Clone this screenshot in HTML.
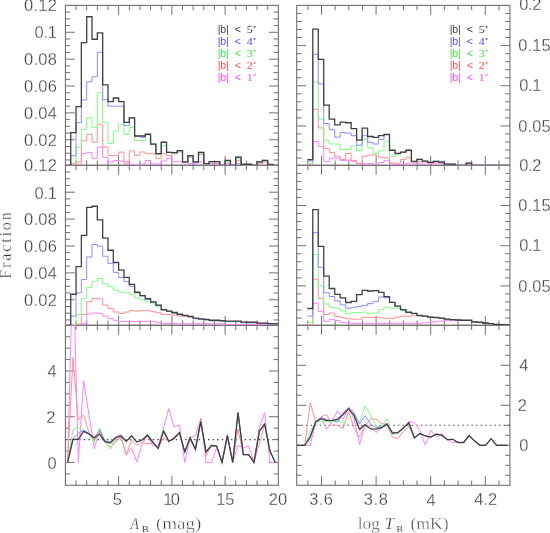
<!DOCTYPE html>
<html><head><meta charset="utf-8"><style>
html,body{margin:0;padding:0;background:#fff;}
svg{display:block;will-change:transform;}
</style></head><body>
<svg width="550" height="533" viewBox="0 0 550 533">
<defs><clipPath id="cL0"><rect x="65.4" y="5.4" width="212.95000000000002" height="159.9"/></clipPath><clipPath id="cL1"><rect x="65.4" y="165.3" width="212.95000000000002" height="160.0"/></clipPath><clipPath id="cL2"><rect x="65.4" y="325.3" width="212.95000000000002" height="160.0"/></clipPath><clipPath id="cR0"><rect x="296.7" y="5.4" width="213.2" height="159.9"/></clipPath><clipPath id="cR1"><rect x="296.7" y="165.3" width="213.2" height="160.0"/></clipPath><clipPath id="cR2"><rect x="296.7" y="325.3" width="213.2" height="160.0"/></clipPath></defs>
<rect width="550" height="533" fill="#fff"/>
<rect x="65.40" y="5.40" width="212.95" height="159.90" fill="none" stroke="#707070" stroke-width="1.1"/>
<line x1="76.05" y1="165.30" x2="76.05" y2="160.50" stroke="#707070" stroke-width="1.0" />
<line x1="76.05" y1="5.40" x2="76.05" y2="10.20" stroke="#707070" stroke-width="1.0" />
<line x1="86.70" y1="165.30" x2="86.70" y2="160.50" stroke="#707070" stroke-width="1.0" />
<line x1="86.70" y1="5.40" x2="86.70" y2="10.20" stroke="#707070" stroke-width="1.0" />
<line x1="97.34" y1="165.30" x2="97.34" y2="160.50" stroke="#707070" stroke-width="1.0" />
<line x1="97.34" y1="5.40" x2="97.34" y2="10.20" stroke="#707070" stroke-width="1.0" />
<line x1="107.99" y1="165.30" x2="107.99" y2="160.50" stroke="#707070" stroke-width="1.0" />
<line x1="107.99" y1="5.40" x2="107.99" y2="10.20" stroke="#707070" stroke-width="1.0" />
<line x1="118.64" y1="165.30" x2="118.64" y2="155.90" stroke="#707070" stroke-width="1.0" />
<line x1="118.64" y1="5.40" x2="118.64" y2="14.80" stroke="#707070" stroke-width="1.0" />
<line x1="129.29" y1="165.30" x2="129.29" y2="160.50" stroke="#707070" stroke-width="1.0" />
<line x1="129.29" y1="5.40" x2="129.29" y2="10.20" stroke="#707070" stroke-width="1.0" />
<line x1="139.93" y1="165.30" x2="139.93" y2="160.50" stroke="#707070" stroke-width="1.0" />
<line x1="139.93" y1="5.40" x2="139.93" y2="10.20" stroke="#707070" stroke-width="1.0" />
<line x1="150.58" y1="165.30" x2="150.58" y2="160.50" stroke="#707070" stroke-width="1.0" />
<line x1="150.58" y1="5.40" x2="150.58" y2="10.20" stroke="#707070" stroke-width="1.0" />
<line x1="161.23" y1="165.30" x2="161.23" y2="160.50" stroke="#707070" stroke-width="1.0" />
<line x1="161.23" y1="5.40" x2="161.23" y2="10.20" stroke="#707070" stroke-width="1.0" />
<line x1="171.88" y1="165.30" x2="171.88" y2="155.90" stroke="#707070" stroke-width="1.0" />
<line x1="171.88" y1="5.40" x2="171.88" y2="14.80" stroke="#707070" stroke-width="1.0" />
<line x1="182.52" y1="165.30" x2="182.52" y2="160.50" stroke="#707070" stroke-width="1.0" />
<line x1="182.52" y1="5.40" x2="182.52" y2="10.20" stroke="#707070" stroke-width="1.0" />
<line x1="193.17" y1="165.30" x2="193.17" y2="160.50" stroke="#707070" stroke-width="1.0" />
<line x1="193.17" y1="5.40" x2="193.17" y2="10.20" stroke="#707070" stroke-width="1.0" />
<line x1="203.82" y1="165.30" x2="203.82" y2="160.50" stroke="#707070" stroke-width="1.0" />
<line x1="203.82" y1="5.40" x2="203.82" y2="10.20" stroke="#707070" stroke-width="1.0" />
<line x1="214.47" y1="165.30" x2="214.47" y2="160.50" stroke="#707070" stroke-width="1.0" />
<line x1="214.47" y1="5.40" x2="214.47" y2="10.20" stroke="#707070" stroke-width="1.0" />
<line x1="225.11" y1="165.30" x2="225.11" y2="155.90" stroke="#707070" stroke-width="1.0" />
<line x1="225.11" y1="5.40" x2="225.11" y2="14.80" stroke="#707070" stroke-width="1.0" />
<line x1="235.76" y1="165.30" x2="235.76" y2="160.50" stroke="#707070" stroke-width="1.0" />
<line x1="235.76" y1="5.40" x2="235.76" y2="10.20" stroke="#707070" stroke-width="1.0" />
<line x1="246.41" y1="165.30" x2="246.41" y2="160.50" stroke="#707070" stroke-width="1.0" />
<line x1="246.41" y1="5.40" x2="246.41" y2="10.20" stroke="#707070" stroke-width="1.0" />
<line x1="257.06" y1="165.30" x2="257.06" y2="160.50" stroke="#707070" stroke-width="1.0" />
<line x1="257.06" y1="5.40" x2="257.06" y2="10.20" stroke="#707070" stroke-width="1.0" />
<line x1="267.70" y1="165.30" x2="267.70" y2="160.50" stroke="#707070" stroke-width="1.0" />
<line x1="267.70" y1="5.40" x2="267.70" y2="10.20" stroke="#707070" stroke-width="1.0" />
<line x1="65.40" y1="159.93" x2="70.20" y2="159.93" stroke="#707070" stroke-width="1.0" />
<line x1="278.35" y1="159.93" x2="273.55" y2="159.93" stroke="#707070" stroke-width="1.0" />
<line x1="65.40" y1="153.21" x2="70.20" y2="153.21" stroke="#707070" stroke-width="1.0" />
<line x1="278.35" y1="153.21" x2="273.55" y2="153.21" stroke="#707070" stroke-width="1.0" />
<line x1="65.40" y1="146.49" x2="70.20" y2="146.49" stroke="#707070" stroke-width="1.0" />
<line x1="278.35" y1="146.49" x2="273.55" y2="146.49" stroke="#707070" stroke-width="1.0" />
<line x1="65.40" y1="139.77" x2="74.80" y2="139.77" stroke="#707070" stroke-width="1.0" />
<line x1="278.35" y1="139.77" x2="268.95" y2="139.77" stroke="#707070" stroke-width="1.0" />
<line x1="65.40" y1="133.05" x2="70.20" y2="133.05" stroke="#707070" stroke-width="1.0" />
<line x1="278.35" y1="133.05" x2="273.55" y2="133.05" stroke="#707070" stroke-width="1.0" />
<line x1="65.40" y1="126.33" x2="70.20" y2="126.33" stroke="#707070" stroke-width="1.0" />
<line x1="278.35" y1="126.33" x2="273.55" y2="126.33" stroke="#707070" stroke-width="1.0" />
<line x1="65.40" y1="119.61" x2="70.20" y2="119.61" stroke="#707070" stroke-width="1.0" />
<line x1="278.35" y1="119.61" x2="273.55" y2="119.61" stroke="#707070" stroke-width="1.0" />
<line x1="65.40" y1="112.90" x2="74.80" y2="112.90" stroke="#707070" stroke-width="1.0" />
<line x1="278.35" y1="112.90" x2="268.95" y2="112.90" stroke="#707070" stroke-width="1.0" />
<line x1="65.40" y1="106.18" x2="70.20" y2="106.18" stroke="#707070" stroke-width="1.0" />
<line x1="278.35" y1="106.18" x2="273.55" y2="106.18" stroke="#707070" stroke-width="1.0" />
<line x1="65.40" y1="99.46" x2="70.20" y2="99.46" stroke="#707070" stroke-width="1.0" />
<line x1="278.35" y1="99.46" x2="273.55" y2="99.46" stroke="#707070" stroke-width="1.0" />
<line x1="65.40" y1="92.74" x2="70.20" y2="92.74" stroke="#707070" stroke-width="1.0" />
<line x1="278.35" y1="92.74" x2="273.55" y2="92.74" stroke="#707070" stroke-width="1.0" />
<line x1="65.40" y1="86.02" x2="74.80" y2="86.02" stroke="#707070" stroke-width="1.0" />
<line x1="278.35" y1="86.02" x2="268.95" y2="86.02" stroke="#707070" stroke-width="1.0" />
<line x1="65.40" y1="79.30" x2="70.20" y2="79.30" stroke="#707070" stroke-width="1.0" />
<line x1="278.35" y1="79.30" x2="273.55" y2="79.30" stroke="#707070" stroke-width="1.0" />
<line x1="65.40" y1="72.58" x2="70.20" y2="72.58" stroke="#707070" stroke-width="1.0" />
<line x1="278.35" y1="72.58" x2="273.55" y2="72.58" stroke="#707070" stroke-width="1.0" />
<line x1="65.40" y1="65.87" x2="70.20" y2="65.87" stroke="#707070" stroke-width="1.0" />
<line x1="278.35" y1="65.87" x2="273.55" y2="65.87" stroke="#707070" stroke-width="1.0" />
<line x1="65.40" y1="59.15" x2="74.80" y2="59.15" stroke="#707070" stroke-width="1.0" />
<line x1="278.35" y1="59.15" x2="268.95" y2="59.15" stroke="#707070" stroke-width="1.0" />
<line x1="65.40" y1="52.43" x2="70.20" y2="52.43" stroke="#707070" stroke-width="1.0" />
<line x1="278.35" y1="52.43" x2="273.55" y2="52.43" stroke="#707070" stroke-width="1.0" />
<line x1="65.40" y1="45.71" x2="70.20" y2="45.71" stroke="#707070" stroke-width="1.0" />
<line x1="278.35" y1="45.71" x2="273.55" y2="45.71" stroke="#707070" stroke-width="1.0" />
<line x1="65.40" y1="38.99" x2="70.20" y2="38.99" stroke="#707070" stroke-width="1.0" />
<line x1="278.35" y1="38.99" x2="273.55" y2="38.99" stroke="#707070" stroke-width="1.0" />
<line x1="65.40" y1="32.27" x2="74.80" y2="32.27" stroke="#707070" stroke-width="1.0" />
<line x1="278.35" y1="32.27" x2="268.95" y2="32.27" stroke="#707070" stroke-width="1.0" />
<line x1="65.40" y1="25.56" x2="70.20" y2="25.56" stroke="#707070" stroke-width="1.0" />
<line x1="278.35" y1="25.56" x2="273.55" y2="25.56" stroke="#707070" stroke-width="1.0" />
<line x1="65.40" y1="18.84" x2="70.20" y2="18.84" stroke="#707070" stroke-width="1.0" />
<line x1="278.35" y1="18.84" x2="273.55" y2="18.84" stroke="#707070" stroke-width="1.0" />
<line x1="65.40" y1="12.12" x2="70.20" y2="12.12" stroke="#707070" stroke-width="1.0" />
<line x1="278.35" y1="12.12" x2="273.55" y2="12.12" stroke="#707070" stroke-width="1.0" />
<rect x="296.70" y="5.40" width="213.20" height="159.90" fill="none" stroke="#707070" stroke-width="1.1"/>
<line x1="307.85" y1="165.30" x2="307.85" y2="160.50" stroke="#707070" stroke-width="1.0" />
<line x1="307.85" y1="5.40" x2="307.85" y2="10.20" stroke="#707070" stroke-width="1.0" />
<line x1="321.50" y1="165.30" x2="321.50" y2="155.90" stroke="#707070" stroke-width="1.0" />
<line x1="321.50" y1="5.40" x2="321.50" y2="14.80" stroke="#707070" stroke-width="1.0" />
<line x1="335.15" y1="165.30" x2="335.15" y2="160.50" stroke="#707070" stroke-width="1.0" />
<line x1="335.15" y1="5.40" x2="335.15" y2="10.20" stroke="#707070" stroke-width="1.0" />
<line x1="348.80" y1="165.30" x2="348.80" y2="160.50" stroke="#707070" stroke-width="1.0" />
<line x1="348.80" y1="5.40" x2="348.80" y2="10.20" stroke="#707070" stroke-width="1.0" />
<line x1="362.45" y1="165.30" x2="362.45" y2="160.50" stroke="#707070" stroke-width="1.0" />
<line x1="362.45" y1="5.40" x2="362.45" y2="10.20" stroke="#707070" stroke-width="1.0" />
<line x1="376.10" y1="165.30" x2="376.10" y2="155.90" stroke="#707070" stroke-width="1.0" />
<line x1="376.10" y1="5.40" x2="376.10" y2="14.80" stroke="#707070" stroke-width="1.0" />
<line x1="389.75" y1="165.30" x2="389.75" y2="160.50" stroke="#707070" stroke-width="1.0" />
<line x1="389.75" y1="5.40" x2="389.75" y2="10.20" stroke="#707070" stroke-width="1.0" />
<line x1="403.40" y1="165.30" x2="403.40" y2="160.50" stroke="#707070" stroke-width="1.0" />
<line x1="403.40" y1="5.40" x2="403.40" y2="10.20" stroke="#707070" stroke-width="1.0" />
<line x1="417.05" y1="165.30" x2="417.05" y2="160.50" stroke="#707070" stroke-width="1.0" />
<line x1="417.05" y1="5.40" x2="417.05" y2="10.20" stroke="#707070" stroke-width="1.0" />
<line x1="430.70" y1="165.30" x2="430.70" y2="155.90" stroke="#707070" stroke-width="1.0" />
<line x1="430.70" y1="5.40" x2="430.70" y2="14.80" stroke="#707070" stroke-width="1.0" />
<line x1="444.35" y1="165.30" x2="444.35" y2="160.50" stroke="#707070" stroke-width="1.0" />
<line x1="444.35" y1="5.40" x2="444.35" y2="10.20" stroke="#707070" stroke-width="1.0" />
<line x1="458.00" y1="165.30" x2="458.00" y2="160.50" stroke="#707070" stroke-width="1.0" />
<line x1="458.00" y1="5.40" x2="458.00" y2="10.20" stroke="#707070" stroke-width="1.0" />
<line x1="471.65" y1="165.30" x2="471.65" y2="160.50" stroke="#707070" stroke-width="1.0" />
<line x1="471.65" y1="5.40" x2="471.65" y2="10.20" stroke="#707070" stroke-width="1.0" />
<line x1="485.30" y1="165.30" x2="485.30" y2="155.90" stroke="#707070" stroke-width="1.0" />
<line x1="485.30" y1="5.40" x2="485.30" y2="14.80" stroke="#707070" stroke-width="1.0" />
<line x1="498.95" y1="165.30" x2="498.95" y2="160.50" stroke="#707070" stroke-width="1.0" />
<line x1="498.95" y1="5.40" x2="498.95" y2="10.20" stroke="#707070" stroke-width="1.0" />
<line x1="296.70" y1="158.07" x2="301.50" y2="158.07" stroke="#707070" stroke-width="1.0" />
<line x1="509.90" y1="158.07" x2="505.10" y2="158.07" stroke="#707070" stroke-width="1.0" />
<line x1="296.70" y1="150.03" x2="301.50" y2="150.03" stroke="#707070" stroke-width="1.0" />
<line x1="509.90" y1="150.03" x2="505.10" y2="150.03" stroke="#707070" stroke-width="1.0" />
<line x1="296.70" y1="142.00" x2="301.50" y2="142.00" stroke="#707070" stroke-width="1.0" />
<line x1="509.90" y1="142.00" x2="505.10" y2="142.00" stroke="#707070" stroke-width="1.0" />
<line x1="296.70" y1="133.96" x2="301.50" y2="133.96" stroke="#707070" stroke-width="1.0" />
<line x1="509.90" y1="133.96" x2="505.10" y2="133.96" stroke="#707070" stroke-width="1.0" />
<line x1="296.70" y1="125.93" x2="306.10" y2="125.93" stroke="#707070" stroke-width="1.0" />
<line x1="509.90" y1="125.93" x2="500.50" y2="125.93" stroke="#707070" stroke-width="1.0" />
<line x1="296.70" y1="117.89" x2="301.50" y2="117.89" stroke="#707070" stroke-width="1.0" />
<line x1="509.90" y1="117.89" x2="505.10" y2="117.89" stroke="#707070" stroke-width="1.0" />
<line x1="296.70" y1="109.86" x2="301.50" y2="109.86" stroke="#707070" stroke-width="1.0" />
<line x1="509.90" y1="109.86" x2="505.10" y2="109.86" stroke="#707070" stroke-width="1.0" />
<line x1="296.70" y1="101.82" x2="301.50" y2="101.82" stroke="#707070" stroke-width="1.0" />
<line x1="509.90" y1="101.82" x2="505.10" y2="101.82" stroke="#707070" stroke-width="1.0" />
<line x1="296.70" y1="93.79" x2="301.50" y2="93.79" stroke="#707070" stroke-width="1.0" />
<line x1="509.90" y1="93.79" x2="505.10" y2="93.79" stroke="#707070" stroke-width="1.0" />
<line x1="296.70" y1="85.75" x2="306.10" y2="85.75" stroke="#707070" stroke-width="1.0" />
<line x1="509.90" y1="85.75" x2="500.50" y2="85.75" stroke="#707070" stroke-width="1.0" />
<line x1="296.70" y1="77.72" x2="301.50" y2="77.72" stroke="#707070" stroke-width="1.0" />
<line x1="509.90" y1="77.72" x2="505.10" y2="77.72" stroke="#707070" stroke-width="1.0" />
<line x1="296.70" y1="69.68" x2="301.50" y2="69.68" stroke="#707070" stroke-width="1.0" />
<line x1="509.90" y1="69.68" x2="505.10" y2="69.68" stroke="#707070" stroke-width="1.0" />
<line x1="296.70" y1="61.65" x2="301.50" y2="61.65" stroke="#707070" stroke-width="1.0" />
<line x1="509.90" y1="61.65" x2="505.10" y2="61.65" stroke="#707070" stroke-width="1.0" />
<line x1="296.70" y1="53.61" x2="301.50" y2="53.61" stroke="#707070" stroke-width="1.0" />
<line x1="509.90" y1="53.61" x2="505.10" y2="53.61" stroke="#707070" stroke-width="1.0" />
<line x1="296.70" y1="45.58" x2="306.10" y2="45.58" stroke="#707070" stroke-width="1.0" />
<line x1="509.90" y1="45.58" x2="500.50" y2="45.58" stroke="#707070" stroke-width="1.0" />
<line x1="296.70" y1="37.54" x2="301.50" y2="37.54" stroke="#707070" stroke-width="1.0" />
<line x1="509.90" y1="37.54" x2="505.10" y2="37.54" stroke="#707070" stroke-width="1.0" />
<line x1="296.70" y1="29.51" x2="301.50" y2="29.51" stroke="#707070" stroke-width="1.0" />
<line x1="509.90" y1="29.51" x2="505.10" y2="29.51" stroke="#707070" stroke-width="1.0" />
<line x1="296.70" y1="21.47" x2="301.50" y2="21.47" stroke="#707070" stroke-width="1.0" />
<line x1="509.90" y1="21.47" x2="505.10" y2="21.47" stroke="#707070" stroke-width="1.0" />
<line x1="296.70" y1="13.44" x2="301.50" y2="13.44" stroke="#707070" stroke-width="1.0" />
<line x1="509.90" y1="13.44" x2="505.10" y2="13.44" stroke="#707070" stroke-width="1.0" />
<rect x="65.40" y="165.30" width="212.95" height="160.00" fill="none" stroke="#707070" stroke-width="1.1"/>
<line x1="76.05" y1="325.30" x2="76.05" y2="320.50" stroke="#707070" stroke-width="1.0" />
<line x1="76.05" y1="165.30" x2="76.05" y2="170.10" stroke="#707070" stroke-width="1.0" />
<line x1="86.70" y1="325.30" x2="86.70" y2="320.50" stroke="#707070" stroke-width="1.0" />
<line x1="86.70" y1="165.30" x2="86.70" y2="170.10" stroke="#707070" stroke-width="1.0" />
<line x1="97.34" y1="325.30" x2="97.34" y2="320.50" stroke="#707070" stroke-width="1.0" />
<line x1="97.34" y1="165.30" x2="97.34" y2="170.10" stroke="#707070" stroke-width="1.0" />
<line x1="107.99" y1="325.30" x2="107.99" y2="320.50" stroke="#707070" stroke-width="1.0" />
<line x1="107.99" y1="165.30" x2="107.99" y2="170.10" stroke="#707070" stroke-width="1.0" />
<line x1="118.64" y1="325.30" x2="118.64" y2="315.90" stroke="#707070" stroke-width="1.0" />
<line x1="118.64" y1="165.30" x2="118.64" y2="174.70" stroke="#707070" stroke-width="1.0" />
<line x1="129.29" y1="325.30" x2="129.29" y2="320.50" stroke="#707070" stroke-width="1.0" />
<line x1="129.29" y1="165.30" x2="129.29" y2="170.10" stroke="#707070" stroke-width="1.0" />
<line x1="139.93" y1="325.30" x2="139.93" y2="320.50" stroke="#707070" stroke-width="1.0" />
<line x1="139.93" y1="165.30" x2="139.93" y2="170.10" stroke="#707070" stroke-width="1.0" />
<line x1="150.58" y1="325.30" x2="150.58" y2="320.50" stroke="#707070" stroke-width="1.0" />
<line x1="150.58" y1="165.30" x2="150.58" y2="170.10" stroke="#707070" stroke-width="1.0" />
<line x1="161.23" y1="325.30" x2="161.23" y2="320.50" stroke="#707070" stroke-width="1.0" />
<line x1="161.23" y1="165.30" x2="161.23" y2="170.10" stroke="#707070" stroke-width="1.0" />
<line x1="171.88" y1="325.30" x2="171.88" y2="315.90" stroke="#707070" stroke-width="1.0" />
<line x1="171.88" y1="165.30" x2="171.88" y2="174.70" stroke="#707070" stroke-width="1.0" />
<line x1="182.52" y1="325.30" x2="182.52" y2="320.50" stroke="#707070" stroke-width="1.0" />
<line x1="182.52" y1="165.30" x2="182.52" y2="170.10" stroke="#707070" stroke-width="1.0" />
<line x1="193.17" y1="325.30" x2="193.17" y2="320.50" stroke="#707070" stroke-width="1.0" />
<line x1="193.17" y1="165.30" x2="193.17" y2="170.10" stroke="#707070" stroke-width="1.0" />
<line x1="203.82" y1="325.30" x2="203.82" y2="320.50" stroke="#707070" stroke-width="1.0" />
<line x1="203.82" y1="165.30" x2="203.82" y2="170.10" stroke="#707070" stroke-width="1.0" />
<line x1="214.47" y1="325.30" x2="214.47" y2="320.50" stroke="#707070" stroke-width="1.0" />
<line x1="214.47" y1="165.30" x2="214.47" y2="170.10" stroke="#707070" stroke-width="1.0" />
<line x1="225.11" y1="325.30" x2="225.11" y2="315.90" stroke="#707070" stroke-width="1.0" />
<line x1="225.11" y1="165.30" x2="225.11" y2="174.70" stroke="#707070" stroke-width="1.0" />
<line x1="235.76" y1="325.30" x2="235.76" y2="320.50" stroke="#707070" stroke-width="1.0" />
<line x1="235.76" y1="165.30" x2="235.76" y2="170.10" stroke="#707070" stroke-width="1.0" />
<line x1="246.41" y1="325.30" x2="246.41" y2="320.50" stroke="#707070" stroke-width="1.0" />
<line x1="246.41" y1="165.30" x2="246.41" y2="170.10" stroke="#707070" stroke-width="1.0" />
<line x1="257.06" y1="325.30" x2="257.06" y2="320.50" stroke="#707070" stroke-width="1.0" />
<line x1="257.06" y1="165.30" x2="257.06" y2="170.10" stroke="#707070" stroke-width="1.0" />
<line x1="267.70" y1="325.30" x2="267.70" y2="320.50" stroke="#707070" stroke-width="1.0" />
<line x1="267.70" y1="165.30" x2="267.70" y2="170.10" stroke="#707070" stroke-width="1.0" />
<line x1="65.40" y1="319.92" x2="70.20" y2="319.92" stroke="#707070" stroke-width="1.0" />
<line x1="278.35" y1="319.92" x2="273.55" y2="319.92" stroke="#707070" stroke-width="1.0" />
<line x1="65.40" y1="313.20" x2="70.20" y2="313.20" stroke="#707070" stroke-width="1.0" />
<line x1="278.35" y1="313.20" x2="273.55" y2="313.20" stroke="#707070" stroke-width="1.0" />
<line x1="65.40" y1="306.48" x2="70.20" y2="306.48" stroke="#707070" stroke-width="1.0" />
<line x1="278.35" y1="306.48" x2="273.55" y2="306.48" stroke="#707070" stroke-width="1.0" />
<line x1="65.40" y1="299.75" x2="74.80" y2="299.75" stroke="#707070" stroke-width="1.0" />
<line x1="278.35" y1="299.75" x2="268.95" y2="299.75" stroke="#707070" stroke-width="1.0" />
<line x1="65.40" y1="293.03" x2="70.20" y2="293.03" stroke="#707070" stroke-width="1.0" />
<line x1="278.35" y1="293.03" x2="273.55" y2="293.03" stroke="#707070" stroke-width="1.0" />
<line x1="65.40" y1="286.31" x2="70.20" y2="286.31" stroke="#707070" stroke-width="1.0" />
<line x1="278.35" y1="286.31" x2="273.55" y2="286.31" stroke="#707070" stroke-width="1.0" />
<line x1="65.40" y1="279.59" x2="70.20" y2="279.59" stroke="#707070" stroke-width="1.0" />
<line x1="278.35" y1="279.59" x2="273.55" y2="279.59" stroke="#707070" stroke-width="1.0" />
<line x1="65.40" y1="272.86" x2="74.80" y2="272.86" stroke="#707070" stroke-width="1.0" />
<line x1="278.35" y1="272.86" x2="268.95" y2="272.86" stroke="#707070" stroke-width="1.0" />
<line x1="65.40" y1="266.14" x2="70.20" y2="266.14" stroke="#707070" stroke-width="1.0" />
<line x1="278.35" y1="266.14" x2="273.55" y2="266.14" stroke="#707070" stroke-width="1.0" />
<line x1="65.40" y1="259.42" x2="70.20" y2="259.42" stroke="#707070" stroke-width="1.0" />
<line x1="278.35" y1="259.42" x2="273.55" y2="259.42" stroke="#707070" stroke-width="1.0" />
<line x1="65.40" y1="252.69" x2="70.20" y2="252.69" stroke="#707070" stroke-width="1.0" />
<line x1="278.35" y1="252.69" x2="273.55" y2="252.69" stroke="#707070" stroke-width="1.0" />
<line x1="65.40" y1="245.97" x2="74.80" y2="245.97" stroke="#707070" stroke-width="1.0" />
<line x1="278.35" y1="245.97" x2="268.95" y2="245.97" stroke="#707070" stroke-width="1.0" />
<line x1="65.40" y1="239.25" x2="70.20" y2="239.25" stroke="#707070" stroke-width="1.0" />
<line x1="278.35" y1="239.25" x2="273.55" y2="239.25" stroke="#707070" stroke-width="1.0" />
<line x1="65.40" y1="232.53" x2="70.20" y2="232.53" stroke="#707070" stroke-width="1.0" />
<line x1="278.35" y1="232.53" x2="273.55" y2="232.53" stroke="#707070" stroke-width="1.0" />
<line x1="65.40" y1="225.80" x2="70.20" y2="225.80" stroke="#707070" stroke-width="1.0" />
<line x1="278.35" y1="225.80" x2="273.55" y2="225.80" stroke="#707070" stroke-width="1.0" />
<line x1="65.40" y1="219.08" x2="74.80" y2="219.08" stroke="#707070" stroke-width="1.0" />
<line x1="278.35" y1="219.08" x2="268.95" y2="219.08" stroke="#707070" stroke-width="1.0" />
<line x1="65.40" y1="212.36" x2="70.20" y2="212.36" stroke="#707070" stroke-width="1.0" />
<line x1="278.35" y1="212.36" x2="273.55" y2="212.36" stroke="#707070" stroke-width="1.0" />
<line x1="65.40" y1="205.64" x2="70.20" y2="205.64" stroke="#707070" stroke-width="1.0" />
<line x1="278.35" y1="205.64" x2="273.55" y2="205.64" stroke="#707070" stroke-width="1.0" />
<line x1="65.40" y1="198.91" x2="70.20" y2="198.91" stroke="#707070" stroke-width="1.0" />
<line x1="278.35" y1="198.91" x2="273.55" y2="198.91" stroke="#707070" stroke-width="1.0" />
<line x1="65.40" y1="192.19" x2="74.80" y2="192.19" stroke="#707070" stroke-width="1.0" />
<line x1="278.35" y1="192.19" x2="268.95" y2="192.19" stroke="#707070" stroke-width="1.0" />
<line x1="65.40" y1="185.47" x2="70.20" y2="185.47" stroke="#707070" stroke-width="1.0" />
<line x1="278.35" y1="185.47" x2="273.55" y2="185.47" stroke="#707070" stroke-width="1.0" />
<line x1="65.40" y1="178.75" x2="70.20" y2="178.75" stroke="#707070" stroke-width="1.0" />
<line x1="278.35" y1="178.75" x2="273.55" y2="178.75" stroke="#707070" stroke-width="1.0" />
<line x1="65.40" y1="172.02" x2="70.20" y2="172.02" stroke="#707070" stroke-width="1.0" />
<line x1="278.35" y1="172.02" x2="273.55" y2="172.02" stroke="#707070" stroke-width="1.0" />
<rect x="296.70" y="165.30" width="213.20" height="160.00" fill="none" stroke="#707070" stroke-width="1.1"/>
<line x1="307.85" y1="325.30" x2="307.85" y2="320.50" stroke="#707070" stroke-width="1.0" />
<line x1="307.85" y1="165.30" x2="307.85" y2="170.10" stroke="#707070" stroke-width="1.0" />
<line x1="321.50" y1="325.30" x2="321.50" y2="315.90" stroke="#707070" stroke-width="1.0" />
<line x1="321.50" y1="165.30" x2="321.50" y2="174.70" stroke="#707070" stroke-width="1.0" />
<line x1="335.15" y1="325.30" x2="335.15" y2="320.50" stroke="#707070" stroke-width="1.0" />
<line x1="335.15" y1="165.30" x2="335.15" y2="170.10" stroke="#707070" stroke-width="1.0" />
<line x1="348.80" y1="325.30" x2="348.80" y2="320.50" stroke="#707070" stroke-width="1.0" />
<line x1="348.80" y1="165.30" x2="348.80" y2="170.10" stroke="#707070" stroke-width="1.0" />
<line x1="362.45" y1="325.30" x2="362.45" y2="320.50" stroke="#707070" stroke-width="1.0" />
<line x1="362.45" y1="165.30" x2="362.45" y2="170.10" stroke="#707070" stroke-width="1.0" />
<line x1="376.10" y1="325.30" x2="376.10" y2="315.90" stroke="#707070" stroke-width="1.0" />
<line x1="376.10" y1="165.30" x2="376.10" y2="174.70" stroke="#707070" stroke-width="1.0" />
<line x1="389.75" y1="325.30" x2="389.75" y2="320.50" stroke="#707070" stroke-width="1.0" />
<line x1="389.75" y1="165.30" x2="389.75" y2="170.10" stroke="#707070" stroke-width="1.0" />
<line x1="403.40" y1="325.30" x2="403.40" y2="320.50" stroke="#707070" stroke-width="1.0" />
<line x1="403.40" y1="165.30" x2="403.40" y2="170.10" stroke="#707070" stroke-width="1.0" />
<line x1="417.05" y1="325.30" x2="417.05" y2="320.50" stroke="#707070" stroke-width="1.0" />
<line x1="417.05" y1="165.30" x2="417.05" y2="170.10" stroke="#707070" stroke-width="1.0" />
<line x1="430.70" y1="325.30" x2="430.70" y2="315.90" stroke="#707070" stroke-width="1.0" />
<line x1="430.70" y1="165.30" x2="430.70" y2="174.70" stroke="#707070" stroke-width="1.0" />
<line x1="444.35" y1="325.30" x2="444.35" y2="320.50" stroke="#707070" stroke-width="1.0" />
<line x1="444.35" y1="165.30" x2="444.35" y2="170.10" stroke="#707070" stroke-width="1.0" />
<line x1="458.00" y1="325.30" x2="458.00" y2="320.50" stroke="#707070" stroke-width="1.0" />
<line x1="458.00" y1="165.30" x2="458.00" y2="170.10" stroke="#707070" stroke-width="1.0" />
<line x1="471.65" y1="325.30" x2="471.65" y2="320.50" stroke="#707070" stroke-width="1.0" />
<line x1="471.65" y1="165.30" x2="471.65" y2="170.10" stroke="#707070" stroke-width="1.0" />
<line x1="485.30" y1="325.30" x2="485.30" y2="315.90" stroke="#707070" stroke-width="1.0" />
<line x1="485.30" y1="165.30" x2="485.30" y2="174.70" stroke="#707070" stroke-width="1.0" />
<line x1="498.95" y1="325.30" x2="498.95" y2="320.50" stroke="#707070" stroke-width="1.0" />
<line x1="498.95" y1="165.30" x2="498.95" y2="170.10" stroke="#707070" stroke-width="1.0" />
<line x1="296.70" y1="318.06" x2="301.50" y2="318.06" stroke="#707070" stroke-width="1.0" />
<line x1="509.90" y1="318.06" x2="505.10" y2="318.06" stroke="#707070" stroke-width="1.0" />
<line x1="296.70" y1="310.02" x2="301.50" y2="310.02" stroke="#707070" stroke-width="1.0" />
<line x1="509.90" y1="310.02" x2="505.10" y2="310.02" stroke="#707070" stroke-width="1.0" />
<line x1="296.70" y1="301.98" x2="301.50" y2="301.98" stroke="#707070" stroke-width="1.0" />
<line x1="509.90" y1="301.98" x2="505.10" y2="301.98" stroke="#707070" stroke-width="1.0" />
<line x1="296.70" y1="293.94" x2="301.50" y2="293.94" stroke="#707070" stroke-width="1.0" />
<line x1="509.90" y1="293.94" x2="505.10" y2="293.94" stroke="#707070" stroke-width="1.0" />
<line x1="296.70" y1="285.90" x2="306.10" y2="285.90" stroke="#707070" stroke-width="1.0" />
<line x1="509.90" y1="285.90" x2="500.50" y2="285.90" stroke="#707070" stroke-width="1.0" />
<line x1="296.70" y1="277.86" x2="301.50" y2="277.86" stroke="#707070" stroke-width="1.0" />
<line x1="509.90" y1="277.86" x2="505.10" y2="277.86" stroke="#707070" stroke-width="1.0" />
<line x1="296.70" y1="269.82" x2="301.50" y2="269.82" stroke="#707070" stroke-width="1.0" />
<line x1="509.90" y1="269.82" x2="505.10" y2="269.82" stroke="#707070" stroke-width="1.0" />
<line x1="296.70" y1="261.78" x2="301.50" y2="261.78" stroke="#707070" stroke-width="1.0" />
<line x1="509.90" y1="261.78" x2="505.10" y2="261.78" stroke="#707070" stroke-width="1.0" />
<line x1="296.70" y1="253.74" x2="301.50" y2="253.74" stroke="#707070" stroke-width="1.0" />
<line x1="509.90" y1="253.74" x2="505.10" y2="253.74" stroke="#707070" stroke-width="1.0" />
<line x1="296.70" y1="245.70" x2="306.10" y2="245.70" stroke="#707070" stroke-width="1.0" />
<line x1="509.90" y1="245.70" x2="500.50" y2="245.70" stroke="#707070" stroke-width="1.0" />
<line x1="296.70" y1="237.66" x2="301.50" y2="237.66" stroke="#707070" stroke-width="1.0" />
<line x1="509.90" y1="237.66" x2="505.10" y2="237.66" stroke="#707070" stroke-width="1.0" />
<line x1="296.70" y1="229.62" x2="301.50" y2="229.62" stroke="#707070" stroke-width="1.0" />
<line x1="509.90" y1="229.62" x2="505.10" y2="229.62" stroke="#707070" stroke-width="1.0" />
<line x1="296.70" y1="221.58" x2="301.50" y2="221.58" stroke="#707070" stroke-width="1.0" />
<line x1="509.90" y1="221.58" x2="505.10" y2="221.58" stroke="#707070" stroke-width="1.0" />
<line x1="296.70" y1="213.54" x2="301.50" y2="213.54" stroke="#707070" stroke-width="1.0" />
<line x1="509.90" y1="213.54" x2="505.10" y2="213.54" stroke="#707070" stroke-width="1.0" />
<line x1="296.70" y1="205.50" x2="306.10" y2="205.50" stroke="#707070" stroke-width="1.0" />
<line x1="509.90" y1="205.50" x2="500.50" y2="205.50" stroke="#707070" stroke-width="1.0" />
<line x1="296.70" y1="197.46" x2="301.50" y2="197.46" stroke="#707070" stroke-width="1.0" />
<line x1="509.90" y1="197.46" x2="505.10" y2="197.46" stroke="#707070" stroke-width="1.0" />
<line x1="296.70" y1="189.42" x2="301.50" y2="189.42" stroke="#707070" stroke-width="1.0" />
<line x1="509.90" y1="189.42" x2="505.10" y2="189.42" stroke="#707070" stroke-width="1.0" />
<line x1="296.70" y1="181.38" x2="301.50" y2="181.38" stroke="#707070" stroke-width="1.0" />
<line x1="509.90" y1="181.38" x2="505.10" y2="181.38" stroke="#707070" stroke-width="1.0" />
<line x1="296.70" y1="173.34" x2="301.50" y2="173.34" stroke="#707070" stroke-width="1.0" />
<line x1="509.90" y1="173.34" x2="505.10" y2="173.34" stroke="#707070" stroke-width="1.0" />
<rect x="65.40" y="325.30" width="212.95" height="160.00" fill="none" stroke="#707070" stroke-width="1.1"/>
<line x1="76.05" y1="485.30" x2="76.05" y2="480.50" stroke="#707070" stroke-width="1.0" />
<line x1="76.05" y1="325.30" x2="76.05" y2="330.10" stroke="#707070" stroke-width="1.0" />
<line x1="86.70" y1="485.30" x2="86.70" y2="480.50" stroke="#707070" stroke-width="1.0" />
<line x1="86.70" y1="325.30" x2="86.70" y2="330.10" stroke="#707070" stroke-width="1.0" />
<line x1="97.34" y1="485.30" x2="97.34" y2="480.50" stroke="#707070" stroke-width="1.0" />
<line x1="97.34" y1="325.30" x2="97.34" y2="330.10" stroke="#707070" stroke-width="1.0" />
<line x1="107.99" y1="485.30" x2="107.99" y2="480.50" stroke="#707070" stroke-width="1.0" />
<line x1="107.99" y1="325.30" x2="107.99" y2="330.10" stroke="#707070" stroke-width="1.0" />
<line x1="118.64" y1="485.30" x2="118.64" y2="475.90" stroke="#707070" stroke-width="1.0" />
<line x1="118.64" y1="325.30" x2="118.64" y2="334.70" stroke="#707070" stroke-width="1.0" />
<line x1="129.29" y1="485.30" x2="129.29" y2="480.50" stroke="#707070" stroke-width="1.0" />
<line x1="129.29" y1="325.30" x2="129.29" y2="330.10" stroke="#707070" stroke-width="1.0" />
<line x1="139.93" y1="485.30" x2="139.93" y2="480.50" stroke="#707070" stroke-width="1.0" />
<line x1="139.93" y1="325.30" x2="139.93" y2="330.10" stroke="#707070" stroke-width="1.0" />
<line x1="150.58" y1="485.30" x2="150.58" y2="480.50" stroke="#707070" stroke-width="1.0" />
<line x1="150.58" y1="325.30" x2="150.58" y2="330.10" stroke="#707070" stroke-width="1.0" />
<line x1="161.23" y1="485.30" x2="161.23" y2="480.50" stroke="#707070" stroke-width="1.0" />
<line x1="161.23" y1="325.30" x2="161.23" y2="330.10" stroke="#707070" stroke-width="1.0" />
<line x1="171.88" y1="485.30" x2="171.88" y2="475.90" stroke="#707070" stroke-width="1.0" />
<line x1="171.88" y1="325.30" x2="171.88" y2="334.70" stroke="#707070" stroke-width="1.0" />
<line x1="182.52" y1="485.30" x2="182.52" y2="480.50" stroke="#707070" stroke-width="1.0" />
<line x1="182.52" y1="325.30" x2="182.52" y2="330.10" stroke="#707070" stroke-width="1.0" />
<line x1="193.17" y1="485.30" x2="193.17" y2="480.50" stroke="#707070" stroke-width="1.0" />
<line x1="193.17" y1="325.30" x2="193.17" y2="330.10" stroke="#707070" stroke-width="1.0" />
<line x1="203.82" y1="485.30" x2="203.82" y2="480.50" stroke="#707070" stroke-width="1.0" />
<line x1="203.82" y1="325.30" x2="203.82" y2="330.10" stroke="#707070" stroke-width="1.0" />
<line x1="214.47" y1="485.30" x2="214.47" y2="480.50" stroke="#707070" stroke-width="1.0" />
<line x1="214.47" y1="325.30" x2="214.47" y2="330.10" stroke="#707070" stroke-width="1.0" />
<line x1="225.11" y1="485.30" x2="225.11" y2="475.90" stroke="#707070" stroke-width="1.0" />
<line x1="225.11" y1="325.30" x2="225.11" y2="334.70" stroke="#707070" stroke-width="1.0" />
<line x1="235.76" y1="485.30" x2="235.76" y2="480.50" stroke="#707070" stroke-width="1.0" />
<line x1="235.76" y1="325.30" x2="235.76" y2="330.10" stroke="#707070" stroke-width="1.0" />
<line x1="246.41" y1="485.30" x2="246.41" y2="480.50" stroke="#707070" stroke-width="1.0" />
<line x1="246.41" y1="325.30" x2="246.41" y2="330.10" stroke="#707070" stroke-width="1.0" />
<line x1="257.06" y1="485.30" x2="257.06" y2="480.50" stroke="#707070" stroke-width="1.0" />
<line x1="257.06" y1="325.30" x2="257.06" y2="330.10" stroke="#707070" stroke-width="1.0" />
<line x1="267.70" y1="485.30" x2="267.70" y2="480.50" stroke="#707070" stroke-width="1.0" />
<line x1="267.70" y1="325.30" x2="267.70" y2="330.10" stroke="#707070" stroke-width="1.0" />
<line x1="65.40" y1="473.87" x2="70.20" y2="473.87" stroke="#707070" stroke-width="1.0" />
<line x1="278.35" y1="473.87" x2="273.55" y2="473.87" stroke="#707070" stroke-width="1.0" />
<line x1="65.40" y1="462.44" x2="74.80" y2="462.44" stroke="#707070" stroke-width="1.0" />
<line x1="278.35" y1="462.44" x2="268.95" y2="462.44" stroke="#707070" stroke-width="1.0" />
<line x1="65.40" y1="451.01" x2="70.20" y2="451.01" stroke="#707070" stroke-width="1.0" />
<line x1="278.35" y1="451.01" x2="273.55" y2="451.01" stroke="#707070" stroke-width="1.0" />
<line x1="65.40" y1="439.59" x2="70.20" y2="439.59" stroke="#707070" stroke-width="1.0" />
<line x1="278.35" y1="439.59" x2="273.55" y2="439.59" stroke="#707070" stroke-width="1.0" />
<line x1="65.40" y1="428.16" x2="70.20" y2="428.16" stroke="#707070" stroke-width="1.0" />
<line x1="278.35" y1="428.16" x2="273.55" y2="428.16" stroke="#707070" stroke-width="1.0" />
<line x1="65.40" y1="416.73" x2="74.80" y2="416.73" stroke="#707070" stroke-width="1.0" />
<line x1="278.35" y1="416.73" x2="268.95" y2="416.73" stroke="#707070" stroke-width="1.0" />
<line x1="65.40" y1="405.30" x2="70.20" y2="405.30" stroke="#707070" stroke-width="1.0" />
<line x1="278.35" y1="405.30" x2="273.55" y2="405.30" stroke="#707070" stroke-width="1.0" />
<line x1="65.40" y1="393.87" x2="70.20" y2="393.87" stroke="#707070" stroke-width="1.0" />
<line x1="278.35" y1="393.87" x2="273.55" y2="393.87" stroke="#707070" stroke-width="1.0" />
<line x1="65.40" y1="382.44" x2="70.20" y2="382.44" stroke="#707070" stroke-width="1.0" />
<line x1="278.35" y1="382.44" x2="273.55" y2="382.44" stroke="#707070" stroke-width="1.0" />
<line x1="65.40" y1="371.01" x2="74.80" y2="371.01" stroke="#707070" stroke-width="1.0" />
<line x1="278.35" y1="371.01" x2="268.95" y2="371.01" stroke="#707070" stroke-width="1.0" />
<line x1="65.40" y1="359.59" x2="70.20" y2="359.59" stroke="#707070" stroke-width="1.0" />
<line x1="278.35" y1="359.59" x2="273.55" y2="359.59" stroke="#707070" stroke-width="1.0" />
<line x1="65.40" y1="348.16" x2="70.20" y2="348.16" stroke="#707070" stroke-width="1.0" />
<line x1="278.35" y1="348.16" x2="273.55" y2="348.16" stroke="#707070" stroke-width="1.0" />
<line x1="65.40" y1="336.73" x2="70.20" y2="336.73" stroke="#707070" stroke-width="1.0" />
<line x1="278.35" y1="336.73" x2="273.55" y2="336.73" stroke="#707070" stroke-width="1.0" />
<rect x="296.70" y="325.30" width="213.20" height="160.00" fill="none" stroke="#707070" stroke-width="1.1"/>
<line x1="307.85" y1="485.30" x2="307.85" y2="480.50" stroke="#707070" stroke-width="1.0" />
<line x1="307.85" y1="325.30" x2="307.85" y2="330.10" stroke="#707070" stroke-width="1.0" />
<line x1="321.50" y1="485.30" x2="321.50" y2="475.90" stroke="#707070" stroke-width="1.0" />
<line x1="321.50" y1="325.30" x2="321.50" y2="334.70" stroke="#707070" stroke-width="1.0" />
<line x1="335.15" y1="485.30" x2="335.15" y2="480.50" stroke="#707070" stroke-width="1.0" />
<line x1="335.15" y1="325.30" x2="335.15" y2="330.10" stroke="#707070" stroke-width="1.0" />
<line x1="348.80" y1="485.30" x2="348.80" y2="480.50" stroke="#707070" stroke-width="1.0" />
<line x1="348.80" y1="325.30" x2="348.80" y2="330.10" stroke="#707070" stroke-width="1.0" />
<line x1="362.45" y1="485.30" x2="362.45" y2="480.50" stroke="#707070" stroke-width="1.0" />
<line x1="362.45" y1="325.30" x2="362.45" y2="330.10" stroke="#707070" stroke-width="1.0" />
<line x1="376.10" y1="485.30" x2="376.10" y2="475.90" stroke="#707070" stroke-width="1.0" />
<line x1="376.10" y1="325.30" x2="376.10" y2="334.70" stroke="#707070" stroke-width="1.0" />
<line x1="389.75" y1="485.30" x2="389.75" y2="480.50" stroke="#707070" stroke-width="1.0" />
<line x1="389.75" y1="325.30" x2="389.75" y2="330.10" stroke="#707070" stroke-width="1.0" />
<line x1="403.40" y1="485.30" x2="403.40" y2="480.50" stroke="#707070" stroke-width="1.0" />
<line x1="403.40" y1="325.30" x2="403.40" y2="330.10" stroke="#707070" stroke-width="1.0" />
<line x1="417.05" y1="485.30" x2="417.05" y2="480.50" stroke="#707070" stroke-width="1.0" />
<line x1="417.05" y1="325.30" x2="417.05" y2="330.10" stroke="#707070" stroke-width="1.0" />
<line x1="430.70" y1="485.30" x2="430.70" y2="475.90" stroke="#707070" stroke-width="1.0" />
<line x1="430.70" y1="325.30" x2="430.70" y2="334.70" stroke="#707070" stroke-width="1.0" />
<line x1="444.35" y1="485.30" x2="444.35" y2="480.50" stroke="#707070" stroke-width="1.0" />
<line x1="444.35" y1="325.30" x2="444.35" y2="330.10" stroke="#707070" stroke-width="1.0" />
<line x1="458.00" y1="485.30" x2="458.00" y2="480.50" stroke="#707070" stroke-width="1.0" />
<line x1="458.00" y1="325.30" x2="458.00" y2="330.10" stroke="#707070" stroke-width="1.0" />
<line x1="471.65" y1="485.30" x2="471.65" y2="480.50" stroke="#707070" stroke-width="1.0" />
<line x1="471.65" y1="325.30" x2="471.65" y2="330.10" stroke="#707070" stroke-width="1.0" />
<line x1="485.30" y1="485.30" x2="485.30" y2="475.90" stroke="#707070" stroke-width="1.0" />
<line x1="485.30" y1="325.30" x2="485.30" y2="334.70" stroke="#707070" stroke-width="1.0" />
<line x1="498.95" y1="485.30" x2="498.95" y2="480.50" stroke="#707070" stroke-width="1.0" />
<line x1="498.95" y1="325.30" x2="498.95" y2="330.10" stroke="#707070" stroke-width="1.0" />
<line x1="296.70" y1="475.30" x2="301.50" y2="475.30" stroke="#707070" stroke-width="1.0" />
<line x1="509.90" y1="475.30" x2="505.10" y2="475.30" stroke="#707070" stroke-width="1.0" />
<line x1="296.70" y1="465.30" x2="301.50" y2="465.30" stroke="#707070" stroke-width="1.0" />
<line x1="509.90" y1="465.30" x2="505.10" y2="465.30" stroke="#707070" stroke-width="1.0" />
<line x1="296.70" y1="455.30" x2="301.50" y2="455.30" stroke="#707070" stroke-width="1.0" />
<line x1="509.90" y1="455.30" x2="505.10" y2="455.30" stroke="#707070" stroke-width="1.0" />
<line x1="296.70" y1="445.30" x2="306.10" y2="445.30" stroke="#707070" stroke-width="1.0" />
<line x1="509.90" y1="445.30" x2="500.50" y2="445.30" stroke="#707070" stroke-width="1.0" />
<line x1="296.70" y1="435.30" x2="301.50" y2="435.30" stroke="#707070" stroke-width="1.0" />
<line x1="509.90" y1="435.30" x2="505.10" y2="435.30" stroke="#707070" stroke-width="1.0" />
<line x1="296.70" y1="425.30" x2="301.50" y2="425.30" stroke="#707070" stroke-width="1.0" />
<line x1="509.90" y1="425.30" x2="505.10" y2="425.30" stroke="#707070" stroke-width="1.0" />
<line x1="296.70" y1="415.30" x2="301.50" y2="415.30" stroke="#707070" stroke-width="1.0" />
<line x1="509.90" y1="415.30" x2="505.10" y2="415.30" stroke="#707070" stroke-width="1.0" />
<line x1="296.70" y1="405.30" x2="306.10" y2="405.30" stroke="#707070" stroke-width="1.0" />
<line x1="509.90" y1="405.30" x2="500.50" y2="405.30" stroke="#707070" stroke-width="1.0" />
<line x1="296.70" y1="395.30" x2="301.50" y2="395.30" stroke="#707070" stroke-width="1.0" />
<line x1="509.90" y1="395.30" x2="505.10" y2="395.30" stroke="#707070" stroke-width="1.0" />
<line x1="296.70" y1="385.30" x2="301.50" y2="385.30" stroke="#707070" stroke-width="1.0" />
<line x1="509.90" y1="385.30" x2="505.10" y2="385.30" stroke="#707070" stroke-width="1.0" />
<line x1="296.70" y1="375.30" x2="301.50" y2="375.30" stroke="#707070" stroke-width="1.0" />
<line x1="509.90" y1="375.30" x2="505.10" y2="375.30" stroke="#707070" stroke-width="1.0" />
<line x1="296.70" y1="365.30" x2="306.10" y2="365.30" stroke="#707070" stroke-width="1.0" />
<line x1="509.90" y1="365.30" x2="500.50" y2="365.30" stroke="#707070" stroke-width="1.0" />
<line x1="296.70" y1="355.30" x2="301.50" y2="355.30" stroke="#707070" stroke-width="1.0" />
<line x1="509.90" y1="355.30" x2="505.10" y2="355.30" stroke="#707070" stroke-width="1.0" />
<line x1="296.70" y1="345.30" x2="301.50" y2="345.30" stroke="#707070" stroke-width="1.0" />
<line x1="509.90" y1="345.30" x2="505.10" y2="345.30" stroke="#707070" stroke-width="1.0" />
<line x1="296.70" y1="335.30" x2="301.50" y2="335.30" stroke="#707070" stroke-width="1.0" />
<line x1="509.90" y1="335.30" x2="505.10" y2="335.30" stroke="#707070" stroke-width="1.0" />
<g clip-path="url(#cL0)" fill="none" stroke-linejoin="miter">
<path d="M65.40,165.30 L65.40,165.30 L70.72,165.30 L70.72,164.63 L76.05,164.63 L76.05,164.63 L81.37,164.63 L81.37,153.71 L86.70,153.71 L86.70,152.37 L92.02,152.37 L92.02,158.24 L97.34,158.24 L97.34,147.18 L102.67,147.18 L102.67,157.31 L107.99,157.31 L107.99,162.10 L113.31,162.10 L113.31,160.50 L118.64,160.50 L118.64,161.04 L123.96,161.04 L123.96,163.30 L129.29,163.30 L129.29,164.37 L134.61,164.37 L134.61,165.30 L139.93,165.30 L139.93,163.97 L145.26,163.97 L145.26,160.50 L150.58,160.50 L150.58,163.97 L155.90,163.97 L155.90,163.97 L161.23,163.97 L161.23,161.04 L166.55,161.04 L166.55,158.24 L171.88,158.24 L171.88,161.70 L177.20,161.70 L177.20,161.70 L182.52,161.70 L182.52,165.30 L187.85,165.30 L187.85,163.43 L193.17,163.43 L193.17,163.43 L198.49,163.43 L198.49,161.70 L203.82,161.70 L203.82,165.30 L209.14,165.30 L209.14,163.57 L214.47,163.57 L214.47,163.57 L219.79,163.57 L219.79,165.30 L225.11,165.30 L225.11,163.70 L230.44,163.70 L230.44,165.30 L235.76,165.30 L235.76,163.70 L241.08,163.70 L241.08,165.30 L246.41,165.30 L246.41,165.30 L251.73,165.30 L251.73,165.30 L257.06,165.30 L257.06,165.30 L262.38,165.30 L262.38,161.70 L267.70,161.70 L267.70,165.30 L273.03,165.30 L273.03,165.30 L278.35,165.30" stroke="#ff80ff" stroke-width="1.0"/>
<path d="M65.40,165.30 L65.40,165.30 L70.72,165.30 L70.72,165.30 L76.05,165.30 L76.05,162.10 L81.37,162.10 L81.37,140.78 L86.70,140.78 L86.70,134.25 L92.02,134.25 L92.02,142.25 L97.34,142.25 L97.34,124.26 L102.67,124.26 L102.67,147.04 L107.99,147.04 L107.99,155.44 L113.31,155.44 L113.31,155.44 L118.64,155.44 L118.64,152.11 L123.96,152.11 L123.96,161.84 L129.29,161.84 L129.29,150.91 L134.61,150.91 L134.61,155.44 L139.93,155.44 L139.93,151.98 L145.26,151.98 L145.26,153.71 L150.58,153.71 L150.58,153.71 L155.90,153.71 L155.90,158.37 L161.23,158.37 L161.23,153.71 L166.55,153.71 L166.55,155.44 L171.88,155.44 L171.88,153.71 L177.20,153.71 L177.20,151.98 L182.52,151.98 L182.52,161.97 L187.85,161.97 L187.85,157.31 L193.17,157.31 L193.17,161.97 L198.49,161.97 L198.49,154.64 L203.82,154.64 L203.82,163.57 L209.14,163.57 L209.14,161.70 L214.47,161.70 L214.47,161.70 L219.79,161.70 L219.79,165.30 L225.11,165.30 L225.11,161.97 L230.44,161.97 L230.44,165.30 L235.76,165.30 L235.76,160.37 L241.08,160.37 L241.08,165.30 L246.41,165.30 L246.41,165.30 L251.73,165.30 L251.73,165.30 L257.06,165.30 L257.06,163.70 L262.38,163.70 L262.38,161.97 L267.70,161.97 L267.70,165.30 L273.03,165.30 L273.03,165.30 L278.35,165.30" stroke="#ff9090" stroke-width="1.0"/>
<path d="M65.40,165.30 L65.40,165.30 L70.72,165.30 L70.72,163.57 L76.05,163.57 L76.05,147.18 L81.37,147.18 L81.37,129.32 L86.70,129.32 L86.70,117.73 L92.02,117.73 L92.02,127.59 L97.34,127.59 L97.34,92.81 L102.67,92.81 L102.67,122.39 L107.99,122.39 L107.99,143.58 L113.31,143.58 L113.31,130.92 L118.64,130.92 L118.64,124.13 L123.96,124.13 L123.96,134.25 L129.29,134.25 L129.29,127.46 L134.61,127.46 L134.61,140.52 L139.93,140.52 L139.93,140.52 L145.26,140.52 L145.26,134.92 L150.58,134.92 L150.58,144.11 L155.90,144.11 L155.90,154.37 L161.23,154.37 L161.23,145.58 L166.55,145.58 L166.55,152.37 L171.88,152.37 L171.88,153.31 L177.20,153.31 L177.20,151.31 L182.52,151.31 L182.52,161.97 L187.85,161.97 L187.85,156.64 L193.17,156.64 L193.17,161.97 L198.49,161.97 L198.49,153.31 L203.82,153.31 L203.82,163.57 L209.14,163.57 L209.14,161.70 L214.47,161.70 L214.47,161.70 L219.79,161.70 L219.79,165.30 L225.11,165.30 L225.11,161.30 L230.44,161.30 L230.44,165.30 L235.76,165.30 L235.76,158.64 L241.08,158.64 L241.08,165.30 L246.41,165.30 L246.41,165.30 L251.73,165.30 L251.73,165.30 L257.06,165.30 L257.06,162.90 L262.38,162.90 L262.38,161.04 L267.70,161.04 L267.70,165.30 L273.03,165.30 L273.03,165.30 L278.35,165.30" stroke="#80ff80" stroke-width="1.0"/>
<path d="M65.40,165.30 L65.40,165.30 L70.72,165.30 L70.72,155.71 L76.05,155.71 L76.05,122.66 L81.37,122.66 L81.37,100.01 L86.70,100.01 L86.70,81.75 L92.02,81.75 L92.02,76.82 L97.34,76.82 L97.34,52.30 L102.67,52.30 L102.67,99.74 L107.99,99.74 L107.99,106.14 L113.31,106.14 L113.31,106.14 L118.64,106.14 L118.64,106.14 L123.96,106.14 L123.96,125.59 L129.29,125.59 L129.29,117.86 L134.61,117.86 L134.61,135.99 L139.93,135.99 L139.93,137.32 L145.26,137.32 L145.26,134.25 L150.58,134.25 L150.58,144.11 L155.90,144.11 L155.90,153.71 L161.23,153.71 L161.23,142.25 L166.55,142.25 L166.55,152.37 L171.88,152.37 L171.88,152.64 L177.20,152.64 L177.20,150.64 L182.52,150.64 L182.52,161.97 L187.85,161.97 L187.85,155.71 L193.17,155.71 L193.17,161.97 L198.49,161.97 L198.49,152.37 L203.82,152.37 L203.82,163.57 L209.14,163.57 L209.14,161.70 L214.47,161.70 L214.47,161.70 L219.79,161.70 L219.79,165.30 L225.11,165.30 L225.11,160.37 L230.44,160.37 L230.44,165.30 L235.76,165.30 L235.76,157.04 L241.08,157.04 L241.08,165.30 L246.41,165.30 L246.41,165.30 L251.73,165.30 L251.73,165.30 L257.06,165.30 L257.06,161.97 L262.38,161.97 L262.38,160.37 L267.70,160.37 L267.70,165.30 L273.03,165.30 L273.03,165.30 L278.35,165.30" stroke="#8c8cff" stroke-width="1.0"/>
<path d="M65.40,165.30 L65.40,165.30 L70.72,165.30 L70.72,132.65 L76.05,132.65 L76.05,106.67 L81.37,106.67 L81.37,42.58 L86.70,42.58 L86.70,16.73 L92.02,16.73 L92.02,39.25 L97.34,39.25 L97.34,32.85 L102.67,32.85 L102.67,84.82 L107.99,84.82 L107.99,101.61 L113.31,101.61 L113.31,98.01 L118.64,98.01 L118.64,101.61 L123.96,101.61 L123.96,122.39 L129.29,122.39 L129.29,117.86 L134.61,117.86 L134.61,135.99 L139.93,135.99 L139.93,135.99 L145.26,135.99 L145.26,134.25 L150.58,134.25 L150.58,144.11 L155.90,144.11 L155.90,153.71 L161.23,153.71 L161.23,142.25 L166.55,142.25 L166.55,152.37 L171.88,152.37 L171.88,152.64 L177.20,152.64 L177.20,150.64 L182.52,150.64 L182.52,161.97 L187.85,161.97 L187.85,155.71 L193.17,155.71 L193.17,161.97 L198.49,161.97 L198.49,152.37 L203.82,152.37 L203.82,163.57 L209.14,163.57 L209.14,161.70 L214.47,161.70 L214.47,161.70 L219.79,161.70 L219.79,165.30 L225.11,165.30 L225.11,160.37 L230.44,160.37 L230.44,165.30 L235.76,165.30 L235.76,157.04 L241.08,157.04 L241.08,164.23 L246.41,164.23 L246.41,164.23 L251.73,164.23 L251.73,165.30 L257.06,165.30 L257.06,161.97 L262.38,161.97 L262.38,160.37 L267.70,160.37 L267.70,164.37 L273.03,164.37 L273.03,165.30 L278.35,165.30" stroke="#404040" stroke-width="1.3"/>
</g>
<g clip-path="url(#cR0)" fill="none" stroke-linejoin="miter">
<path d="M307.30,164.50 L307.30,164.50 L312.78,164.50 L312.78,141.47 L318.26,141.47 L318.26,146.43 L323.74,146.43 L323.74,161.86 L329.22,161.86 L329.22,158.18 L334.70,158.18 L334.70,158.18 L340.18,158.18 L340.18,160.50 L345.66,160.50 L345.66,160.10 L351.14,160.10 L351.14,161.30 L356.62,161.30 L356.62,163.78 L362.10,163.78 L362.10,163.78 L367.58,163.78 L367.58,163.54 L373.06,163.54 L373.06,164.50 L378.54,164.50 L378.54,162.50 L384.02,162.50 L384.02,160.74 L389.50,160.74 L389.50,164.10 L394.98,164.10 L394.98,164.50 L400.46,164.50 L400.46,164.50 L405.94,164.50 L405.94,163.22 L411.42,163.22 L411.42,163.22 L416.90,163.22 L416.90,163.22 L422.38,163.22 L422.38,164.50 L427.86,164.50 L427.86,163.22 L433.34,163.22 L433.34,163.14 L438.82,163.14 L438.82,163.70 L444.30,163.70 L444.30,165.30 L449.78,165.30 L449.78,165.30 L455.26,165.30 L455.26,165.30 L460.74,165.30 L460.74,165.30 L466.22,165.30 L466.22,165.30 L471.70,165.30 L471.70,165.30 L477.18,165.30 L477.18,165.30 L482.66,165.30 L482.66,165.30 L488.14,165.30 L488.14,165.30 L493.62,165.30 L493.62,165.30 L499.10,165.30 L499.10,165.30 L504.58,165.30 L504.58,165.30 L510.06,165.30" stroke="#ff80ff" stroke-width="1.0"/>
<path d="M307.30,164.10 L307.30,164.10 L312.78,164.10 L312.78,109.34 L318.26,109.34 L318.26,127.88 L323.74,127.88 L323.74,148.27 L329.22,148.27 L329.22,152.59 L334.70,152.59 L334.70,156.27 L340.18,156.27 L340.18,159.38 L345.66,159.38 L345.66,153.47 L351.14,153.47 L351.14,160.42 L356.62,160.42 L356.62,163.38 L362.10,163.38 L362.10,156.27 L367.58,156.27 L367.58,155.07 L373.06,155.07 L373.06,155.07 L378.54,155.07 L378.54,157.23 L384.02,157.23 L384.02,157.94 L389.50,157.94 L389.50,162.90 L394.98,162.90 L394.98,163.22 L400.46,163.22 L400.46,159.38 L405.94,159.38 L405.94,157.31 L411.42,157.31 L411.42,162.10 L416.90,162.10 L416.90,161.38 L422.38,161.38 L422.38,162.10 L427.86,162.10 L427.86,162.90 L433.34,162.90 L433.34,162.10 L438.82,162.10 L438.82,162.90 L444.30,162.90 L444.30,164.50 L449.78,164.50 L449.78,164.50 L455.26,164.50 L455.26,165.30 L460.74,165.30 L460.74,165.30 L466.22,165.30 L466.22,164.26 L471.70,164.26 L471.70,165.30 L477.18,165.30 L477.18,165.30 L482.66,165.30 L482.66,165.30 L488.14,165.30 L488.14,165.30 L493.62,165.30 L493.62,165.30 L499.10,165.30 L499.10,165.30 L504.58,165.30 L504.58,165.30 L510.06,165.30" stroke="#ff9090" stroke-width="1.0"/>
<path d="M307.30,163.22 L307.30,163.22 L312.78,163.22 L312.78,81.91 L318.26,81.91 L318.26,119.25 L323.74,119.25 L323.74,140.20 L329.22,140.20 L329.22,144.03 L334.70,144.03 L334.70,144.03 L340.18,144.03 L340.18,149.47 L345.66,149.47 L345.66,149.47 L351.14,149.47 L351.14,146.11 L356.62,146.11 L356.62,150.83 L362.10,150.83 L362.10,139.40 L367.58,139.40 L367.58,147.71 L373.06,147.71 L373.06,153.47 L378.54,153.47 L378.54,150.83 L384.02,150.83 L384.02,141.16 L389.50,141.16 L389.50,156.43 L394.98,156.43 L394.98,154.51 L400.46,154.51 L400.46,152.51 L405.94,152.51 L405.94,150.91 L411.42,150.91 L411.42,161.70 L416.90,161.70 L416.90,159.70 L422.38,159.70 L422.38,161.30 L427.86,161.30 L427.86,162.50 L433.34,162.50 L433.34,161.30 L438.82,161.30 L438.82,162.10 L444.30,162.10 L444.30,164.34 L449.78,164.34 L449.78,164.34 L455.26,164.34 L455.26,165.30 L460.74,165.30 L460.74,165.30 L466.22,165.30 L466.22,163.14 L471.70,163.14 L471.70,165.30 L477.18,165.30 L477.18,165.30 L482.66,165.30 L482.66,165.30 L488.14,165.30 L488.14,165.30 L493.62,165.30 L493.62,165.30 L499.10,165.30 L499.10,165.30 L504.58,165.30 L504.58,165.30 L510.06,165.30" stroke="#80ff80" stroke-width="1.0"/>
<path d="M307.30,160.90 L307.30,160.90 L312.78,160.90 L312.78,54.33 L318.26,54.33 L318.26,83.83 L323.74,83.83 L323.74,123.49 L329.22,123.49 L329.22,129.72 L334.70,129.72 L334.70,137.16 L340.18,137.16 L340.18,132.44 L345.66,132.44 L345.66,133.08 L351.14,133.08 L351.14,135.72 L356.62,135.72 L356.62,145.23 L362.10,145.23 L362.10,135.72 L367.58,135.72 L367.58,142.27 L373.06,142.27 L373.06,144.03 L378.54,144.03 L378.54,139.40 L384.02,139.40 L384.02,134.92 L389.50,134.92 L389.50,150.51 L394.98,150.51 L394.98,153.39 L400.46,153.39 L400.46,152.11 L405.94,152.11 L405.94,150.27 L411.42,150.27 L411.42,161.46 L416.90,161.46 L416.90,159.38 L422.38,159.38 L422.38,161.22 L427.86,161.22 L427.86,162.34 L433.34,162.34 L433.34,161.30 L438.82,161.30 L438.82,162.10 L444.30,162.10 L444.30,164.18 L449.78,164.18 L449.78,164.18 L455.26,164.18 L455.26,165.30 L460.74,165.30 L460.74,165.30 L466.22,165.30 L466.22,163.14 L471.70,163.14 L471.70,165.30 L477.18,165.30 L477.18,165.30 L482.66,165.30 L482.66,165.30 L488.14,165.30 L488.14,165.30 L493.62,165.30 L493.62,165.30 L499.10,165.30 L499.10,165.30 L504.58,165.30 L504.58,165.30 L510.06,165.30" stroke="#8c8cff" stroke-width="1.0"/>
<path d="M307.30,159.54 L307.30,159.54 L312.78,159.54 L312.78,29.07 L318.26,29.07 L318.26,59.45 L323.74,59.45 L323.74,105.18 L329.22,105.18 L329.22,119.09 L334.70,119.09 L334.70,124.85 L340.18,124.85 L340.18,122.13 L345.66,122.13 L345.66,122.77 L351.14,122.77 L351.14,128.68 L356.62,128.68 L356.62,140.20 L362.10,140.20 L362.10,128.04 L367.58,128.04 L367.58,136.52 L373.06,136.52 L373.06,137.40 L378.54,137.40 L378.54,135.56 L384.02,135.56 L384.02,134.44 L389.50,134.44 L389.50,150.27 L394.98,150.27 L394.98,153.39 L400.46,153.39 L400.46,152.11 L405.94,152.11 L405.94,150.27 L411.42,150.27 L411.42,161.46 L416.90,161.46 L416.90,159.38 L422.38,159.38 L422.38,161.22 L427.86,161.22 L427.86,162.34 L433.34,162.34 L433.34,161.30 L438.82,161.30 L438.82,162.10 L444.30,162.10 L444.30,164.18 L449.78,164.18 L449.78,164.18 L455.26,164.18 L455.26,165.30 L460.74,165.30 L460.74,165.30 L466.22,165.30 L466.22,163.14 L471.70,163.14 L471.70,165.30 L477.18,165.30 L477.18,165.30 L482.66,165.30 L482.66,165.30 L488.14,165.30 L488.14,165.30 L493.62,165.30 L493.62,165.30 L499.10,165.30 L499.10,165.30 L504.58,165.30 L504.58,165.30 L510.06,165.30" stroke="#404040" stroke-width="1.3"/>
</g>
<g clip-path="url(#cL1)" fill="none" stroke-linejoin="miter">
<path d="M65.40,325.30 L65.40,325.30 L70.72,325.30 L70.72,325.30 L76.05,325.30 L76.05,324.63 L81.37,324.63 L81.37,323.30 L86.70,323.30 L86.70,313.97 L92.02,313.97 L92.02,313.03 L97.34,313.03 L97.34,313.57 L102.67,313.57 L102.67,316.10 L107.99,316.10 L107.99,318.50 L113.31,318.50 L113.31,320.37 L118.64,320.37 L118.64,321.43 L123.96,321.43 L123.96,321.43 L129.29,321.43 L129.29,321.43 L134.61,321.43 L134.61,321.43 L139.93,321.43 L139.93,321.43 L145.26,321.43 L145.26,321.43 L150.58,321.43 L150.58,321.43 L155.90,321.43 L155.90,322.63 L161.23,322.63 L161.23,323.43 L166.55,323.43 L166.55,323.43 L171.88,323.43 L171.88,323.43 L177.20,323.43 L177.20,323.70 L182.52,323.70 L182.52,323.70 L187.85,323.70 L187.85,323.70 L193.17,323.70 L193.17,323.70 L198.49,323.70 L198.49,323.70 L203.82,323.70 L203.82,323.70 L209.14,323.70 L209.14,323.70 L214.47,323.70 L214.47,323.70 L219.79,323.70 L219.79,323.70 L225.11,323.70 L225.11,324.50 L230.44,324.50 L230.44,324.50 L235.76,324.50 L235.76,324.50 L241.08,324.50 L241.08,324.50 L246.41,324.50 L246.41,324.50 L251.73,324.50 L251.73,324.50 L257.06,324.50 L257.06,324.50 L262.38,324.50 L262.38,324.50 L267.70,324.50 L267.70,324.50 L273.03,324.50 L273.03,324.50 L278.35,324.50" stroke="#ff80ff" stroke-width="1.0"/>
<path d="M65.40,325.30 L65.40,325.30 L70.72,325.30 L70.72,325.30 L76.05,325.30 L76.05,323.97 L81.37,323.97 L81.37,314.50 L86.70,314.50 L86.70,301.70 L92.02,301.70 L92.02,298.50 L97.34,298.50 L97.34,298.90 L102.67,298.90 L102.67,305.03 L107.99,305.03 L107.99,308.63 L113.31,308.63 L113.31,311.97 L118.64,311.97 L118.64,313.57 L123.96,313.57 L123.96,312.10 L129.29,312.10 L129.29,310.63 L134.61,310.63 L134.61,311.17 L139.93,311.17 L139.93,310.63 L145.26,310.63 L145.26,310.63 L150.58,310.63 L150.58,311.70 L155.90,311.70 L155.90,312.77 L161.23,312.77 L161.23,314.50 L166.55,314.50 L166.55,314.50 L171.88,314.50 L171.88,315.17 L177.20,315.17 L177.20,315.97 L182.52,315.97 L182.52,316.23 L187.85,316.23 L187.85,317.17 L193.17,317.17 L193.17,318.63 L198.49,318.63 L198.49,319.17 L203.82,319.17 L203.82,319.70 L209.14,319.70 L209.14,320.50 L214.47,320.50 L214.47,320.63 L219.79,320.63 L219.79,321.03 L225.11,321.03 L225.11,321.43 L230.44,321.43 L230.44,321.43 L235.76,321.43 L235.76,321.43 L241.08,321.43 L241.08,322.37 L246.41,322.37 L246.41,322.37 L251.73,322.37 L251.73,322.37 L257.06,322.37 L257.06,323.17 L262.38,323.17 L262.38,323.17 L267.70,323.17 L267.70,323.70 L273.03,323.70 L273.03,323.70 L278.35,323.70" stroke="#ff9090" stroke-width="1.0"/>
<path d="M65.40,325.30 L65.40,325.30 L70.72,325.30 L70.72,324.77 L76.05,324.77 L76.05,314.50 L81.37,314.50 L81.37,298.23 L86.70,298.23 L86.70,287.30 L92.02,287.30 L92.02,281.30 L97.34,281.30 L97.34,278.50 L102.67,278.50 L102.67,283.83 L107.99,283.83 L107.99,286.63 L113.31,286.63 L113.31,290.37 L118.64,290.37 L118.64,292.23 L123.96,292.23 L123.96,292.77 L129.29,292.77 L129.29,294.23 L134.61,294.23 L134.61,297.97 L139.93,297.97 L139.93,299.97 L145.26,299.97 L145.26,301.97 L150.58,301.97 L150.58,303.97 L155.90,303.97 L155.90,306.77 L161.23,306.77 L161.23,309.97 L166.55,309.97 L166.55,311.17 L171.88,311.17 L171.88,313.03 L177.20,313.03 L177.20,314.63 L182.52,314.63 L182.52,315.70 L187.85,315.70 L187.85,316.77 L193.17,316.77 L193.17,318.50 L198.49,318.50 L198.49,319.30 L203.82,319.30 L203.82,319.83 L209.14,319.83 L209.14,320.63 L214.47,320.63 L214.47,320.63 L219.79,320.63 L219.79,321.03 L225.11,321.03 L225.11,321.57 L230.44,321.57 L230.44,321.57 L235.76,321.57 L235.76,321.57 L241.08,321.57 L241.08,322.50 L246.41,322.50 L246.41,322.63 L251.73,322.63 L251.73,322.63 L257.06,322.63 L257.06,323.43 L262.38,323.43 L262.38,323.43 L267.70,323.43 L267.70,323.97 L273.03,323.97 L273.03,323.97 L278.35,323.97" stroke="#80ff80" stroke-width="1.0"/>
<path d="M65.40,325.30 L65.40,325.30 L70.72,325.30 L70.72,316.10 L76.05,316.10 L76.05,292.90 L81.37,292.90 L81.37,279.57 L86.70,279.57 L86.70,257.03 L92.02,257.03 L92.02,244.50 L97.34,244.50 L97.34,246.23 L102.67,246.23 L102.67,256.23 L107.99,256.23 L107.99,263.30 L113.31,263.30 L113.31,272.37 L118.64,272.37 L118.64,277.57 L123.96,277.57 L123.96,281.57 L129.29,281.57 L129.29,286.63 L134.61,286.63 L134.61,292.90 L139.93,292.90 L139.93,295.97 L145.26,295.97 L145.26,299.57 L150.58,299.57 L150.58,302.23 L155.90,302.23 L155.90,305.30 L161.23,305.30 L161.23,310.10 L166.55,310.10 L166.55,311.57 L171.88,311.57 L171.88,313.03 L177.20,313.03 L177.20,314.77 L182.52,314.77 L182.52,315.83 L187.85,315.83 L187.85,316.90 L193.17,316.90 L193.17,318.63 L198.49,318.63 L198.49,319.43 L203.82,319.43 L203.82,319.97 L209.14,319.97 L209.14,320.77 L214.47,320.77 L214.47,320.77 L219.79,320.77 L219.79,321.17 L225.11,321.17 L225.11,321.70 L230.44,321.70 L230.44,321.70 L235.76,321.70 L235.76,321.70 L241.08,321.70 L241.08,322.63 L246.41,322.63 L246.41,322.77 L251.73,322.77 L251.73,322.77 L257.06,322.77 L257.06,323.57 L262.38,323.57 L262.38,323.57 L267.70,323.57 L267.70,324.10 L273.03,324.10 L273.03,324.10 L278.35,324.10" stroke="#8c8cff" stroke-width="1.0"/>
<path d="M65.40,325.30 L65.40,325.30 L70.72,325.30 L70.72,294.23 L76.05,294.23 L76.05,266.63 L81.37,266.63 L81.37,235.30 L86.70,235.30 L86.70,207.43 L92.02,207.43 L92.02,206.23 L97.34,206.23 L97.34,219.97 L102.67,219.97 L102.67,238.10 L107.99,238.10 L107.99,250.23 L113.31,250.23 L113.31,262.50 L118.64,262.50 L118.64,270.10 L123.96,270.10 L123.96,277.43 L129.29,277.43 L129.29,284.37 L134.61,284.37 L134.61,292.23 L139.93,292.23 L139.93,295.57 L145.26,295.57 L145.26,298.63 L150.58,298.63 L150.58,301.83 L155.90,301.83 L155.90,305.03 L161.23,305.03 L161.23,309.57 L166.55,309.57 L166.55,311.03 L171.88,311.03 L171.88,312.50 L177.20,312.50 L177.20,314.23 L182.52,314.23 L182.52,315.30 L187.85,315.30 L187.85,316.37 L193.17,316.37 L193.17,318.10 L198.49,318.10 L198.49,318.90 L203.82,318.90 L203.82,319.43 L209.14,319.43 L209.14,320.23 L214.47,320.23 L214.47,320.23 L219.79,320.23 L219.79,320.63 L225.11,320.63 L225.11,321.17 L230.44,321.17 L230.44,321.17 L235.76,321.17 L235.76,321.17 L241.08,321.17 L241.08,322.10 L246.41,322.10 L246.41,322.23 L251.73,322.23 L251.73,322.23 L257.06,322.23 L257.06,323.03 L262.38,323.03 L262.38,323.03 L267.70,323.03 L267.70,323.57 L273.03,323.57 L273.03,323.57 L278.35,323.57" stroke="#404040" stroke-width="1.3"/>
</g>
<g clip-path="url(#cR1)" fill="none" stroke-linejoin="miter">
<path d="M307.30,325.30 L307.30,325.30 L312.78,325.30 L312.78,303.30 L318.26,303.30 L318.26,311.38 L323.74,311.38 L323.74,321.30 L329.22,321.30 L329.22,319.38 L334.70,319.38 L334.70,320.66 L340.18,320.66 L340.18,322.50 L345.66,322.50 L345.66,322.98 L351.14,322.98 L351.14,323.38 L356.62,323.38 L356.62,323.38 L362.10,323.38 L362.10,323.38 L367.58,323.38 L367.58,323.38 L373.06,323.38 L373.06,323.38 L378.54,323.38 L378.54,323.38 L384.02,323.38 L384.02,323.38 L389.50,323.38 L389.50,323.30 L394.98,323.30 L394.98,323.30 L400.46,323.30 L400.46,323.30 L405.94,323.30 L405.94,323.30 L411.42,323.30 L411.42,323.30 L416.90,323.30 L416.90,323.30 L422.38,323.30 L422.38,322.82 L427.86,322.82 L427.86,322.34 L433.34,322.34 L433.34,321.70 L438.82,321.70 L438.82,321.06 L444.30,321.06 L444.30,320.58 L449.78,320.58 L449.78,320.58 L455.26,320.58 L455.26,320.58 L460.74,320.58 L460.74,320.58 L466.22,320.58 L466.22,320.58 L471.70,320.58 L471.70,322.10 L477.18,322.10 L477.18,322.50 L482.66,322.50 L482.66,323.14 L488.14,323.14 L488.14,323.70 L493.62,323.70 L493.62,324.50 L499.10,324.50 L499.10,324.74 L504.58,324.74 L504.58,324.98 L510.06,324.98" stroke="#ff80ff" stroke-width="1.0"/>
<path d="M307.30,324.50 L307.30,324.50 L312.78,324.50 L312.78,279.22 L318.26,279.22 L318.26,298.58 L323.74,298.58 L323.74,314.50 L329.22,314.50 L329.22,312.98 L334.70,312.98 L334.70,316.34 L340.18,316.34 L340.18,317.62 L345.66,317.62 L345.66,318.74 L351.14,318.74 L351.14,319.22 L356.62,319.22 L356.62,319.22 L362.10,319.22 L362.10,317.38 L367.58,317.38 L367.58,317.54 L373.06,317.54 L373.06,317.38 L378.54,317.38 L378.54,317.86 L384.02,317.86 L384.02,318.34 L389.50,318.34 L389.50,318.58 L394.98,318.58 L394.98,317.06 L400.46,317.06 L400.46,316.26 L405.94,316.26 L405.94,316.26 L411.42,316.26 L411.42,315.22 L416.90,315.22 L416.90,316.10 L422.38,316.10 L422.38,316.26 L427.86,316.26 L427.86,317.06 L433.34,317.06 L433.34,317.94 L438.82,317.94 L438.82,318.34 L444.30,318.34 L444.30,319.38 L449.78,319.38 L449.78,319.78 L455.26,319.78 L455.26,320.26 L460.74,320.26 L460.74,320.50 L466.22,320.50 L466.22,320.50 L471.70,320.50 L471.70,322.02 L477.18,322.02 L477.18,322.50 L482.66,322.50 L482.66,323.22 L488.14,323.22 L488.14,323.86 L493.62,323.86 L493.62,324.74 L499.10,324.74 L499.10,324.98 L504.58,324.98 L504.58,325.22 L510.06,325.22" stroke="#ff9090" stroke-width="1.0"/>
<path d="M307.30,322.50 L307.30,322.50 L312.78,322.50 L312.78,254.50 L318.26,254.50 L318.26,285.78 L323.74,285.78 L323.74,304.02 L329.22,304.02 L329.22,307.14 L334.70,307.14 L334.70,308.26 L340.18,308.26 L340.18,310.82 L345.66,310.82 L345.66,313.86 L351.14,313.86 L351.14,312.58 L356.62,312.58 L356.62,312.58 L362.10,312.58 L362.10,312.10 L367.58,312.10 L367.58,313.62 L373.06,313.62 L373.06,312.98 L378.54,312.98 L378.54,309.70 L384.02,309.70 L384.02,307.30 L389.50,307.30 L389.50,308.18 L394.98,308.18 L394.98,308.26 L400.46,308.26 L400.46,310.42 L405.94,310.42 L405.94,312.50 L411.42,312.50 L411.42,313.54 L416.90,313.54 L416.90,315.62 L422.38,315.62 L422.38,316.34 L427.86,316.34 L427.86,317.30 L433.34,317.30 L433.34,317.70 L438.82,317.70 L438.82,318.34 L444.30,318.34 L444.30,319.38 L449.78,319.38 L449.78,319.78 L455.26,319.78 L455.26,320.26 L460.74,320.26 L460.74,320.50 L466.22,320.50 L466.22,320.50 L471.70,320.50 L471.70,322.02 L477.18,322.02 L477.18,322.50 L482.66,322.50 L482.66,323.22 L488.14,323.22 L488.14,323.86 L493.62,323.86 L493.62,324.74 L499.10,324.74 L499.10,324.98 L504.58,324.98 L504.58,325.22 L510.06,325.22" stroke="#80ff80" stroke-width="1.0"/>
<path d="M307.30,316.10 L307.30,316.10 L312.78,316.10 L312.78,232.42 L318.26,232.42 L318.26,267.22 L323.74,267.22 L323.74,292.82 L329.22,292.82 L329.22,296.50 L334.70,296.50 L334.70,300.90 L340.18,300.90 L340.18,304.82 L345.66,304.82 L345.66,308.26 L351.14,308.26 L351.14,307.30 L356.62,307.30 L356.62,306.34 L362.10,306.34 L362.10,305.38 L367.58,305.38 L367.58,303.62 L373.06,303.62 L373.06,301.38 L378.54,301.38 L378.54,296.98 L384.02,296.98 L384.02,297.62 L389.50,297.62 L389.50,302.34 L394.98,302.34 L394.98,306.26 L400.46,306.26 L400.46,309.78 L405.94,309.78 L405.94,312.42 L411.42,312.42 L411.42,313.46 L416.90,313.46 L416.90,315.54 L422.38,315.54 L422.38,316.26 L427.86,316.26 L427.86,317.22 L433.34,317.22 L433.34,317.62 L438.82,317.62 L438.82,318.26 L444.30,318.26 L444.30,319.30 L449.78,319.30 L449.78,319.70 L455.26,319.70 L455.26,320.18 L460.74,320.18 L460.74,320.42 L466.22,320.42 L466.22,320.42 L471.70,320.42 L471.70,321.94 L477.18,321.94 L477.18,322.42 L482.66,322.42 L482.66,323.14 L488.14,323.14 L488.14,323.78 L493.62,323.78 L493.62,324.66 L499.10,324.66 L499.10,324.90 L504.58,324.90 L504.58,325.14 L510.06,325.14" stroke="#8c8cff" stroke-width="1.0"/>
<path d="M307.30,308.50 L307.30,308.50 L312.78,308.50 L312.78,209.54 L318.26,209.54 L318.26,246.42 L323.74,246.42 L323.74,276.10 L329.22,276.10 L329.22,288.50 L334.70,288.50 L334.70,294.42 L340.18,294.42 L340.18,297.78 L345.66,297.78 L345.66,302.50 L351.14,302.50 L351.14,301.38 L356.62,301.38 L356.62,294.66 L362.10,294.66 L362.10,290.34 L367.58,290.34 L367.58,290.98 L373.06,290.98 L373.06,290.66 L378.54,290.66 L378.54,292.34 L384.02,292.34 L384.02,296.58 L389.50,296.58 L389.50,302.34 L394.98,302.34 L394.98,306.10 L400.46,306.10 L400.46,309.62 L405.94,309.62 L405.94,312.26 L411.42,312.26 L411.42,313.30 L416.90,313.30 L416.90,315.38 L422.38,315.38 L422.38,316.10 L427.86,316.10 L427.86,317.06 L433.34,317.06 L433.34,317.46 L438.82,317.46 L438.82,318.10 L444.30,318.10 L444.30,319.14 L449.78,319.14 L449.78,319.54 L455.26,319.54 L455.26,320.02 L460.74,320.02 L460.74,320.26 L466.22,320.26 L466.22,320.26 L471.70,320.26 L471.70,321.78 L477.18,321.78 L477.18,322.26 L482.66,322.26 L482.66,322.98 L488.14,322.98 L488.14,323.62 L493.62,323.62 L493.62,324.50 L499.10,324.50 L499.10,324.74 L504.58,324.74 L504.58,324.98 L510.06,324.98" stroke="#404040" stroke-width="1.3"/>
</g>
<g clip-path="url(#cL2)" fill="none" stroke-linejoin="miter">
<line x1="65.4" y1="439.59" x2="278.35" y2="439.59" stroke="#404040" stroke-width="1.1" stroke-dasharray="1.4,3.2"/>
<path d="M67.66,462.44 L72.98,256.73 L78.31,462.44 L83.63,380.61 L88.96,414.44 L94.28,448.73 L99.60,429.30 L104.93,441.87 L110.25,447.81 L115.57,439.59 L120.90,437.30 L126.22,454.67 L131.55,447.81 L136.87,461.99 L142.19,443.93 L147.52,435.01 L152.84,445.99 L158.16,445.30 L163.49,428.16 L168.81,408.50 L174.14,427.01 L179.46,424.73 L184.78,462.44 L190.11,437.30 L195.43,435.70 L200.75,419.24 L206.08,462.44 L211.40,462.44 L216.73,447.59 L222.05,462.44 L227.37,434.56 L232.70,462.44 L238.02,445.53 L243.34,447.59 L248.67,445.99 L253.99,462.44 L259.32,427.70 L264.64,412.61 L269.96,462.44 L275.29,462.44" stroke="#ff80ff" stroke-width="1.0"/>
<path d="M67.66,462.44 L72.98,357.30 L78.31,419.93 L83.63,414.90 L88.96,432.73 L94.28,440.73 L99.60,431.59 L104.93,441.41 L110.25,447.36 L115.57,442.33 L120.90,436.84 L126.22,454.90 L131.55,440.04 L136.87,445.30 L142.19,442.33 L147.52,443.70 L152.84,443.01 L158.16,448.04 L163.49,437.99 L168.81,441.41 L174.14,436.84 L179.46,432.27 L184.78,451.93 L190.11,439.59 L195.43,449.41 L200.75,418.10 L206.08,456.04 L211.40,445.07 L216.73,445.99 L222.05,462.44 L227.37,435.70 L232.70,462.44 L238.02,429.07 L243.34,454.67 L248.67,454.67 L253.99,462.44 L259.32,444.16 L264.64,424.04 L269.96,451.01 L275.29,462.44" stroke="#ff9090" stroke-width="1.0"/>
<path d="M67.66,462.44 L72.98,429.53 L78.31,427.24 L83.63,431.36 L88.96,433.41 L94.28,442.79 L99.60,427.93 L104.93,440.73 L110.25,448.96 L115.57,439.59 L120.90,435.93 L126.22,440.73 L131.55,436.61 L136.87,441.87 L142.19,439.59 L147.52,433.87 L152.84,440.73 L158.16,448.50 L163.49,429.07 L168.81,441.41 L174.14,438.44 L179.46,432.50 L184.78,451.93 L190.11,437.76 L195.43,449.41 L200.75,421.53 L206.08,451.93 L211.40,445.53 L216.73,445.99 L222.05,462.44 L227.37,435.70 L232.70,462.44 L238.02,412.61 L243.34,454.67 L248.67,454.67 L253.99,462.44 L259.32,431.36 L264.64,424.04 L269.96,451.01 L275.29,462.44" stroke="#80ff80" stroke-width="1.0"/>
<path d="M67.66,462.44 L72.98,438.44 L78.31,433.41 L83.63,430.21 L88.96,433.41 L94.28,437.53 L99.60,430.21 L104.93,440.73 L110.25,441.87 L115.57,436.84 L120.90,434.56 L126.22,441.41 L131.55,435.01 L136.87,441.87 L142.19,440.04 L147.52,435.01 L152.84,441.87 L158.16,448.73 L163.49,431.13 L168.81,441.41 L174.14,438.44 L179.46,432.50 L184.78,451.93 L190.11,437.76 L195.43,449.41 L200.75,421.53 L206.08,451.93 L211.40,445.53 L216.73,445.99 L222.05,462.44 L227.37,435.70 L232.70,462.44 L238.02,412.61 L243.34,454.67 L248.67,454.67 L253.99,462.44 L259.32,431.36 L264.64,424.04 L269.96,451.01 L275.29,462.44" stroke="#8c8cff" stroke-width="1.0"/>
<path d="M67.66,462.44 L72.98,439.36 L78.31,439.36 L83.63,431.36 L88.96,433.87 L94.28,437.99 L99.60,434.10 L104.93,441.64 L110.25,443.01 L115.57,437.76 L120.90,435.93 L126.22,441.41 L131.55,435.93 L136.87,442.10 L142.19,440.04 L147.52,435.24 L152.84,442.33 L158.16,448.50 L163.49,431.13 L168.81,441.41 L174.14,438.44 L179.46,432.50 L184.78,451.93 L190.11,437.76 L195.43,449.41 L200.75,421.53 L206.08,451.93 L211.40,445.53 L216.73,445.99 L222.05,462.44 L227.37,435.70 L232.70,462.44 L238.02,412.61 L243.34,454.67 L248.67,454.67 L253.99,462.44 L259.32,431.36 L264.64,424.04 L269.96,451.01 L275.29,462.44" stroke="#404040" stroke-width="1.3"/>
</g>
<g clip-path="url(#cR2)" fill="none" stroke-linejoin="miter">
<line x1="296.7" y1="425.30" x2="509.9" y2="425.30" stroke="#404040" stroke-width="1.1" stroke-dasharray="1.4,3.2"/>
<path d="M293.80,445.30 L299.28,445.30 L304.76,445.30 L310.24,445.30 L315.72,422.30 L321.20,418.30 L326.68,429.30 L332.16,420.30 L337.64,410.70 L343.12,419.30 L348.60,407.90 L354.08,418.30 L359.56,444.70 L365.04,425.30 L370.52,426.30 L376.00,432.50 L381.48,428.30 L386.96,424.30 L392.44,432.90 L397.92,433.30 L403.40,428.30 L408.88,421.30 L414.36,422.70 L419.84,429.90 L425.32,445.30 L430.80,430.10 L436.28,436.70 L441.76,433.70 L447.24,439.30 L452.72,442.50 L458.20,442.50 L463.68,442.50 L469.16,435.50 L474.64,441.10 L480.12,445.30 L485.60,445.30 L491.08,438.70 L496.56,445.30 L502.04,445.30 L507.52,445.30" stroke="#ff80ff" stroke-width="1.0"/>
<path d="M293.80,445.30 L299.28,445.30 L304.76,445.30 L310.24,402.70 L315.72,421.90 L321.20,416.70 L326.68,414.50 L332.16,425.30 L337.64,425.30 L343.12,428.50 L348.60,411.30 L354.08,428.10 L359.56,436.90 L365.04,425.90 L370.52,418.70 L376.00,419.10 L381.48,423.58 L386.96,424.16 L392.44,437.10 L397.92,438.70 L403.40,431.30 L408.88,426.30 L414.36,437.90 L419.84,433.50 L425.32,435.90 L430.80,437.10 L436.28,434.10 L441.76,435.10 L447.24,439.70 L452.72,439.30 L458.20,442.50 L463.68,442.50 L469.16,435.50 L474.64,441.10 L480.12,445.30 L485.60,445.30 L491.08,438.70 L496.56,445.30 L502.04,445.30 L507.52,445.30" stroke="#ff9090" stroke-width="1.0"/>
<path d="M293.80,445.30 L299.28,445.30 L304.76,445.30 L310.24,431.30 L315.72,421.72 L321.20,421.98 L326.68,421.70 L332.16,421.86 L337.64,420.32 L343.12,423.42 L348.60,417.60 L354.08,415.12 L359.56,422.54 L365.04,406.02 L370.52,415.16 L376.00,426.08 L381.48,426.74 L386.96,418.46 L392.44,434.92 L397.92,432.62 L403.40,428.10 L408.88,422.80 L414.36,437.90 L419.84,433.50 L425.32,435.90 L430.80,437.10 L436.28,434.10 L441.76,435.10 L447.24,439.70 L452.72,439.30 L458.20,442.50 L463.68,442.50 L469.16,435.50 L474.64,441.10 L480.12,445.30 L485.60,445.30 L491.08,438.70 L496.56,445.30 L502.04,445.30 L507.52,445.30" stroke="#80ff80" stroke-width="1.0"/>
<path d="M293.80,445.30 L299.28,445.30 L304.76,445.30 L310.24,435.74 L315.72,421.38 L321.20,417.22 L326.68,419.54 L332.16,420.58 L337.64,422.22 L343.12,413.20 L348.60,407.46 L354.08,412.42 L359.56,424.12 L365.04,415.58 L370.52,424.04 L376.00,427.50 L381.48,427.00 L386.96,423.34 L392.44,432.40 L397.92,432.78 L403.40,428.28 L408.88,421.94 L414.36,437.90 L419.84,433.50 L425.32,435.90 L430.80,437.10 L436.28,434.10 L441.76,435.10 L447.24,439.70 L452.72,439.30 L458.20,442.50 L463.68,442.50 L469.16,435.50 L474.64,441.10 L480.12,445.30 L485.60,445.30 L491.08,438.70 L496.56,445.30 L502.04,445.30 L507.52,445.30" stroke="#8c8cff" stroke-width="1.0"/>
<path d="M293.80,445.30 L299.28,445.30 L304.76,445.30 L310.24,437.30 L315.72,421.90 L321.20,418.70 L326.68,420.70 L332.16,420.30 L337.64,419.30 L343.12,414.50 L348.60,408.90 L354.08,415.30 L359.56,429.30 L365.04,424.70 L370.52,428.90 L376.00,429.10 L381.48,427.70 L386.96,424.10 L392.44,433.10 L397.92,432.70 L403.40,427.70 L408.88,422.90 L414.36,437.90 L419.84,433.50 L425.32,435.90 L430.80,437.10 L436.28,434.10 L441.76,435.10 L447.24,439.70 L452.72,439.30 L458.20,442.50 L463.68,442.50 L469.16,435.50 L474.64,441.10 L480.12,445.30 L485.60,445.30 L491.08,438.70 L496.56,445.30 L502.04,445.30 L507.52,445.30" stroke="#404040" stroke-width="1.3"/>
</g>
<text x="23.96" y="10.50" font-family="Liberation Sans" font-size="16.48" fill="#3a3a3a" stroke="#fff" stroke-width="0.3" textLength="32.87" lengthAdjust="spacing" >0.12</text>
<text x="34.49" y="38.22" font-family="Liberation Sans" font-size="16.48" fill="#3a3a3a" stroke="#fff" stroke-width="0.3" textLength="22.35" lengthAdjust="spacing" >0.1</text>
<text x="23.97" y="65.44" font-family="Liberation Sans" font-size="16.48" fill="#3a3a3a" stroke="#fff" stroke-width="0.3" textLength="32.84" lengthAdjust="spacing" >0.08</text>
<text x="23.97" y="91.67" font-family="Liberation Sans" font-size="16.48" fill="#3a3a3a" stroke="#fff" stroke-width="0.3" textLength="32.84" lengthAdjust="spacing" >0.06</text>
<text x="23.96" y="118.89" font-family="Liberation Sans" font-size="16.48" fill="#3a3a3a" stroke="#fff" stroke-width="0.3" textLength="32.90" lengthAdjust="spacing" >0.04</text>
<text x="23.96" y="146.11" font-family="Liberation Sans" font-size="16.48" fill="#3a3a3a" stroke="#fff" stroke-width="0.3" textLength="32.87" lengthAdjust="spacing" >0.02</text>
<text x="23.96" y="171.30" font-family="Liberation Sans" font-size="16.48" fill="#3a3a3a" stroke="#fff" stroke-width="0.3" textLength="32.87" lengthAdjust="spacing" >0.12</text>
<text x="34.49" y="198.64" font-family="Liberation Sans" font-size="16.48" fill="#3a3a3a" stroke="#fff" stroke-width="0.3" textLength="22.35" lengthAdjust="spacing" >0.1</text>
<text x="23.97" y="224.98" font-family="Liberation Sans" font-size="16.48" fill="#3a3a3a" stroke="#fff" stroke-width="0.3" textLength="32.84" lengthAdjust="spacing" >0.08</text>
<text x="23.97" y="252.32" font-family="Liberation Sans" font-size="16.48" fill="#3a3a3a" stroke="#fff" stroke-width="0.3" textLength="32.84" lengthAdjust="spacing" >0.06</text>
<text x="23.96" y="278.66" font-family="Liberation Sans" font-size="16.48" fill="#3a3a3a" stroke="#fff" stroke-width="0.3" textLength="32.90" lengthAdjust="spacing" >0.04</text>
<text x="23.96" y="305.99" font-family="Liberation Sans" font-size="16.48" fill="#3a3a3a" stroke="#fff" stroke-width="0.3" textLength="32.87" lengthAdjust="spacing" >0.02</text>
<text x="47.57" y="377.40" font-family="Liberation Sans" font-size="16.48" fill="#3a3a3a" stroke="#fff" stroke-width="0.3" textLength="8.38" lengthAdjust="spacing" >4</text>
<text x="46.27" y="423.40" font-family="Liberation Sans" font-size="16.48" fill="#3a3a3a" stroke="#fff" stroke-width="0.3" textLength="13.47" lengthAdjust="spacing" >2</text>
<text x="47.41" y="469.40" font-family="Liberation Sans" font-size="16.48" fill="#3a3a3a" stroke="#fff" stroke-width="0.3" textLength="11.78" lengthAdjust="spacing" >0</text>
<text x="519.24" y="10.40" font-family="Liberation Sans" font-size="16.48" fill="#3a3a3a" stroke="#fff" stroke-width="0.3" textLength="22.10" lengthAdjust="spacing" >0.2</text>
<text x="518.30" y="50.83" font-family="Liberation Sans" font-size="16.48" fill="#3a3a3a" stroke="#fff" stroke-width="0.3" textLength="32.40" lengthAdjust="spacing" >0.15</text>
<text x="519.22" y="91.26" font-family="Liberation Sans" font-size="16.48" fill="#3a3a3a" stroke="#fff" stroke-width="0.3" textLength="22.21" lengthAdjust="spacing" >0.1</text>
<text x="518.30" y="131.68" font-family="Liberation Sans" font-size="16.48" fill="#3a3a3a" stroke="#fff" stroke-width="0.3" textLength="32.40" lengthAdjust="spacing" >0.05</text>
<text x="519.24" y="170.70" font-family="Liberation Sans" font-size="16.48" fill="#3a3a3a" stroke="#fff" stroke-width="0.3" textLength="22.10" lengthAdjust="spacing" >0.2</text>
<text x="518.30" y="211.30" font-family="Liberation Sans" font-size="16.48" fill="#3a3a3a" stroke="#fff" stroke-width="0.3" textLength="32.40" lengthAdjust="spacing" >0.15</text>
<text x="519.22" y="250.91" font-family="Liberation Sans" font-size="16.48" fill="#3a3a3a" stroke="#fff" stroke-width="0.3" textLength="22.21" lengthAdjust="spacing" >0.1</text>
<text x="518.30" y="291.51" font-family="Liberation Sans" font-size="16.48" fill="#3a3a3a" stroke="#fff" stroke-width="0.3" textLength="32.40" lengthAdjust="spacing" >0.05</text>
<text x="519.18" y="371.40" font-family="Liberation Sans" font-size="16.48" fill="#3a3a3a" stroke="#fff" stroke-width="0.3" textLength="9.31" lengthAdjust="spacing" >4</text>
<text x="517.85" y="411.40" font-family="Liberation Sans" font-size="16.48" fill="#3a3a3a" stroke="#fff" stroke-width="0.3" textLength="12.31" lengthAdjust="spacing" >2</text>
<text x="519.27" y="451.40" font-family="Liberation Sans" font-size="16.48" fill="#3a3a3a" stroke="#fff" stroke-width="0.3" textLength="10.31" lengthAdjust="spacing" >0</text>
<text x="112.66" y="505.00" font-family="Liberation Sans" font-size="16.48" fill="#3a3a3a" stroke="#fff" stroke-width="0.3" textLength="14.11" lengthAdjust="spacing" >5</text>
<text x="163.33" y="505.00" font-family="Liberation Sans" font-size="16.48" fill="#3a3a3a" stroke="#fff" stroke-width="0.3" textLength="16.63" lengthAdjust="spacing" >10</text>
<text x="216.20" y="505.00" font-family="Liberation Sans" font-size="16.48" fill="#3a3a3a" stroke="#fff" stroke-width="0.3" textLength="18.13" lengthAdjust="spacing" >15</text>
<text x="268.67" y="505.00" font-family="Liberation Sans" font-size="16.48" fill="#3a3a3a" stroke="#fff" stroke-width="0.3" textLength="18.56" lengthAdjust="spacing" >20</text>
<text x="309.27" y="505.00" font-family="Liberation Sans" font-size="16.48" fill="#3a3a3a" stroke="#fff" stroke-width="0.3" textLength="23.61" lengthAdjust="spacing" >3.6</text>
<text x="363.67" y="505.00" font-family="Liberation Sans" font-size="16.48" fill="#3a3a3a" stroke="#fff" stroke-width="0.3" textLength="24.20" lengthAdjust="spacing" >3.8</text>
<text x="426.61" y="505.50" font-family="Liberation Sans" font-size="16.48" fill="#3a3a3a" stroke="#fff" stroke-width="0.3" textLength="6.93" lengthAdjust="spacing" >4</text>
<text x="474.20" y="505.00" font-family="Liberation Sans" font-size="16.48" fill="#3a3a3a" stroke="#fff" stroke-width="0.3" textLength="23.00" lengthAdjust="spacing" >4.2</text>
<text x="130.40" y="529.00" font-family="Liberation Serif" font-size="16" fill="#3a3a3a" stroke="#fff" stroke-width="0.25" textLength="8.30" lengthAdjust="spacingAndGlyphs" font-style="italic">A</text>
<text x="141.70" y="532.30" font-family="Liberation Serif" font-size="8.5" fill="#3a3a3a" stroke="#fff" stroke-width="0.05" textLength="7.00" lengthAdjust="spacingAndGlyphs" >B</text>
<text x="155.90" y="529.30" font-family="Liberation Serif" font-size="16" fill="#3a3a3a" stroke="#fff" stroke-width="0.4" textLength="45.50" lengthAdjust="spacingAndGlyphs" >(mag)</text>
<text x="357.80" y="529.30" font-family="Liberation Serif" font-size="16" fill="#3a3a3a" stroke="#fff" stroke-width="0.4" textLength="22.20" lengthAdjust="spacingAndGlyphs" >log</text>
<text x="384.50" y="529.00" font-family="Liberation Serif" font-size="16" fill="#3a3a3a" stroke="#fff" stroke-width="0.25" textLength="9.60" lengthAdjust="spacingAndGlyphs" font-style="italic">T</text>
<text x="396.50" y="532.30" font-family="Liberation Serif" font-size="8.5" fill="#3a3a3a" stroke="#fff" stroke-width="0.05" textLength="6.40" lengthAdjust="spacingAndGlyphs" >B</text>
<text x="410.50" y="529.30" font-family="Liberation Serif" font-size="16" fill="#3a3a3a" stroke="#fff" stroke-width="0.4" textLength="38.20" lengthAdjust="spacingAndGlyphs" >(mK)</text>
<text transform="translate(10.9,278.8) rotate(-90)" font-family="Liberation Serif" font-size="16" fill="#3a3a3a" stroke="#fff" stroke-width="0.3" textLength="66.5" lengthAdjust="spacing">Fraction</text>
<g fill="#404040" font-family="Liberation Sans" font-size="10.5">
<text x="217.70" y="32.90">|</text>
<text x="220.30" y="32.90">b</text>
<text x="226.10" y="32.90">|</text>
<text x="234.80" y="32.90" textLength="6.2" lengthAdjust="spacingAndGlyphs">&lt;</text>
<text x="246.80" y="32.90" font-family="Liberation Serif" font-size="10.8" textLength="6.0" lengthAdjust="spacingAndGlyphs">5</text>
<circle cx="254.55" cy="26.90" r="0.8" fill="none" stroke="#404040" stroke-width="0.75"/>
</g>
<g fill="#5050ff" font-family="Liberation Sans" font-size="10.5">
<text x="217.70" y="44.90">|</text>
<text x="220.30" y="44.90">b</text>
<text x="226.10" y="44.90">|</text>
<text x="234.80" y="44.90" textLength="6.2" lengthAdjust="spacingAndGlyphs">&lt;</text>
<text x="246.80" y="44.90" font-family="Liberation Serif" font-size="10.8" textLength="6.0" lengthAdjust="spacingAndGlyphs">4</text>
<circle cx="254.55" cy="38.90" r="0.8" fill="none" stroke="#5050ff" stroke-width="0.75"/>
</g>
<g fill="#48e048" font-family="Liberation Sans" font-size="10.5">
<text x="217.70" y="56.90">|</text>
<text x="220.30" y="56.90">b</text>
<text x="226.10" y="56.90">|</text>
<text x="234.80" y="56.90" textLength="6.2" lengthAdjust="spacingAndGlyphs">&lt;</text>
<text x="246.80" y="56.90" font-family="Liberation Serif" font-size="10.8" textLength="6.0" lengthAdjust="spacingAndGlyphs">3</text>
<circle cx="254.55" cy="50.90" r="0.8" fill="none" stroke="#48e048" stroke-width="0.75"/>
</g>
<g fill="#ff5050" font-family="Liberation Sans" font-size="10.5">
<text x="217.70" y="68.90">|</text>
<text x="220.30" y="68.90">b</text>
<text x="226.10" y="68.90">|</text>
<text x="234.80" y="68.90" textLength="6.2" lengthAdjust="spacingAndGlyphs">&lt;</text>
<text x="246.80" y="68.90" font-family="Liberation Serif" font-size="10.8" textLength="6.0" lengthAdjust="spacingAndGlyphs">2</text>
<circle cx="254.55" cy="62.90" r="0.8" fill="none" stroke="#ff5050" stroke-width="0.75"/>
</g>
<g fill="#ff48ff" font-family="Liberation Sans" font-size="10.5">
<text x="217.70" y="80.90">|</text>
<text x="220.30" y="80.90">b</text>
<text x="226.10" y="80.90">|</text>
<text x="234.80" y="80.90" textLength="6.2" lengthAdjust="spacingAndGlyphs">&lt;</text>
<text x="246.80" y="80.90" font-family="Liberation Serif" font-size="10.8" textLength="6.0" lengthAdjust="spacingAndGlyphs">1</text>
<circle cx="254.55" cy="74.90" r="0.8" fill="none" stroke="#ff48ff" stroke-width="0.75"/>
</g>
<g fill="#404040" font-family="Liberation Sans" font-size="10.5">
<text x="449.70" y="32.90">|</text>
<text x="452.30" y="32.90">b</text>
<text x="458.10" y="32.90">|</text>
<text x="466.80" y="32.90" textLength="6.2" lengthAdjust="spacingAndGlyphs">&lt;</text>
<text x="478.80" y="32.90" font-family="Liberation Serif" font-size="10.8" textLength="6.0" lengthAdjust="spacingAndGlyphs">5</text>
<circle cx="486.55" cy="26.90" r="0.8" fill="none" stroke="#404040" stroke-width="0.75"/>
</g>
<g fill="#5050ff" font-family="Liberation Sans" font-size="10.5">
<text x="449.70" y="44.90">|</text>
<text x="452.30" y="44.90">b</text>
<text x="458.10" y="44.90">|</text>
<text x="466.80" y="44.90" textLength="6.2" lengthAdjust="spacingAndGlyphs">&lt;</text>
<text x="478.80" y="44.90" font-family="Liberation Serif" font-size="10.8" textLength="6.0" lengthAdjust="spacingAndGlyphs">4</text>
<circle cx="486.55" cy="38.90" r="0.8" fill="none" stroke="#5050ff" stroke-width="0.75"/>
</g>
<g fill="#48e048" font-family="Liberation Sans" font-size="10.5">
<text x="449.70" y="56.90">|</text>
<text x="452.30" y="56.90">b</text>
<text x="458.10" y="56.90">|</text>
<text x="466.80" y="56.90" textLength="6.2" lengthAdjust="spacingAndGlyphs">&lt;</text>
<text x="478.80" y="56.90" font-family="Liberation Serif" font-size="10.8" textLength="6.0" lengthAdjust="spacingAndGlyphs">3</text>
<circle cx="486.55" cy="50.90" r="0.8" fill="none" stroke="#48e048" stroke-width="0.75"/>
</g>
<g fill="#ff5050" font-family="Liberation Sans" font-size="10.5">
<text x="449.70" y="68.90">|</text>
<text x="452.30" y="68.90">b</text>
<text x="458.10" y="68.90">|</text>
<text x="466.80" y="68.90" textLength="6.2" lengthAdjust="spacingAndGlyphs">&lt;</text>
<text x="478.80" y="68.90" font-family="Liberation Serif" font-size="10.8" textLength="6.0" lengthAdjust="spacingAndGlyphs">2</text>
<circle cx="486.55" cy="62.90" r="0.8" fill="none" stroke="#ff5050" stroke-width="0.75"/>
</g>
<g fill="#ff48ff" font-family="Liberation Sans" font-size="10.5">
<text x="449.70" y="80.90">|</text>
<text x="452.30" y="80.90">b</text>
<text x="458.10" y="80.90">|</text>
<text x="466.80" y="80.90" textLength="6.2" lengthAdjust="spacingAndGlyphs">&lt;</text>
<text x="478.80" y="80.90" font-family="Liberation Serif" font-size="10.8" textLength="6.0" lengthAdjust="spacingAndGlyphs">1</text>
<circle cx="486.55" cy="74.90" r="0.8" fill="none" stroke="#ff48ff" stroke-width="0.75"/>
</g>
</svg></body></html>
